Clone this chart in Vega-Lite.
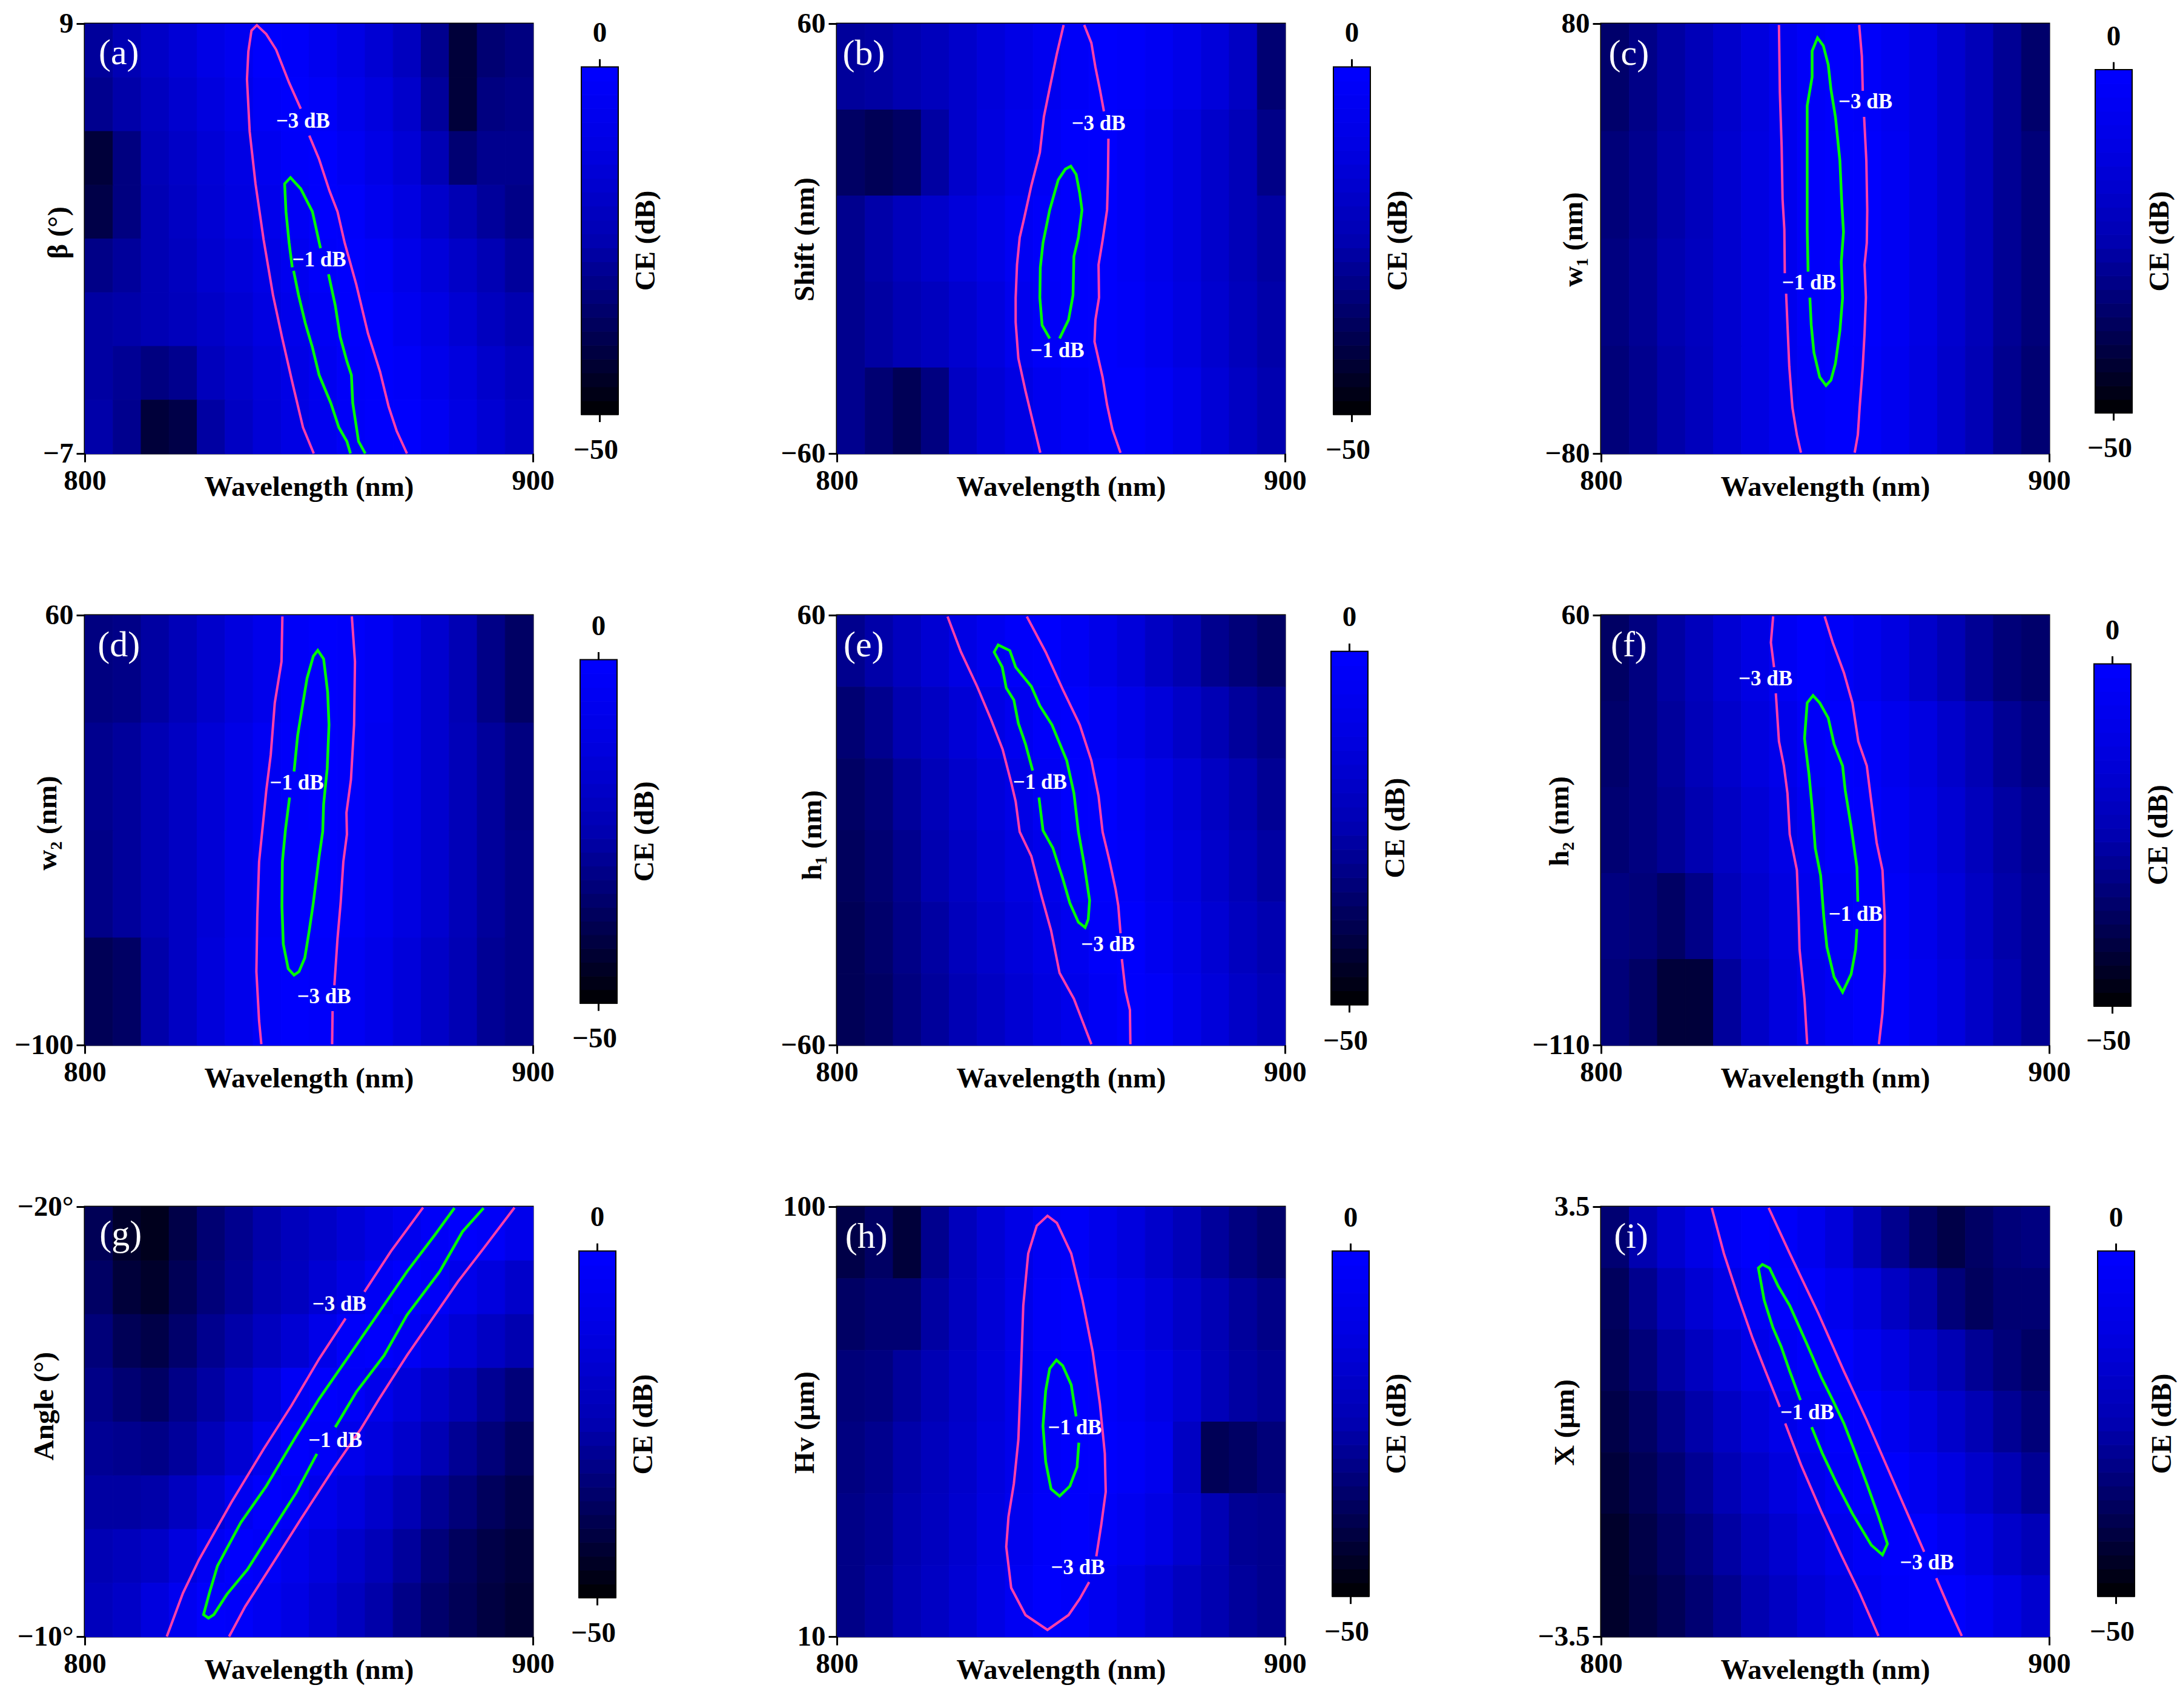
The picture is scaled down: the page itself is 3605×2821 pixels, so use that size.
{
"$schema":"https://vega.github.io/schema/vega-lite/v6.json",
"background":"white",
"padding":{"left":22,"top":13,"right":0,"bottom":0},
"columns":6,"spacing":{"row":267,"column":0},"bounds":"flush","align":"each",
"config":{"axis":{"labelFont":"Liberation Serif","titleFont":"Liberation Serif","labelFontWeight":"bold","titleFontWeight":"bold","labelFontSize":47,"titleFontSize":47,"labelColor":"black","titleColor":"black","tickColor":"black","tickSize":14,"tickWidth":3,"domain":false,"grid":false,"labelOverlap":false,"labelFlush":false},"axisX":{"labelPadding":8,"titleX":370,"titleY":55,"titleAlign":"center","titleBaseline":"middle","titleAngle":0},"axisY":{"labelPadding":5,"labelBaseline":"middle","titleAlign":"center","titleBaseline":"middle","titleAngle":270},"rect":{"opacity":1,"strokeWidth":1}},
"datasets":{"bar":[{"a":0,"b":1,"v":-49},{"a":0,"b":1,"v":-47},{"a":0,"b":1,"v":-45},{"a":0,"b":1,"v":-43},{"a":0,"b":1,"v":-41},{"a":0,"b":1,"v":-39},{"a":0,"b":1,"v":-37},{"a":0,"b":1,"v":-35},{"a":0,"b":1,"v":-33},{"a":0,"b":1,"v":-31},{"a":0,"b":1,"v":-29},{"a":0,"b":1,"v":-27},{"a":0,"b":1,"v":-25},{"a":0,"b":1,"v":-23},{"a":0,"b":1,"v":-21},{"a":0,"b":1,"v":-19},{"a":0,"b":1,"v":-17},{"a":0,"b":1,"v":-15},{"a":0,"b":1,"v":-13},{"a":0,"b":1,"v":-11},{"a":0,"b":1,"v":-9},{"a":0,"b":1,"v":-7},{"a":0,"b":1,"v":-5},{"a":0,"b":1,"v":-3},{"a":0,"b":1,"v":-1}],
"frame":[{"a":0,"b":1,"lo":-50,"hi":0}],
"ticks":[{"a":0.5,"lo":0,"hi":1.1},{"a":0.5,"lo":-50,"hi":-51.1}],
"top":[{"a":0.5,"y":4.8,"t":"0"}],
"low":[{"a":1,"y":-55.2,"t":"−50"}],
"name":[{"a":1.75,"y":-25,"t":"CE (dB)"}]},
"concat":[
{"width":740,"height":710,"view":{"stroke":"black","strokeWidth":3},"encoding":{"x":{"field":"x","type":"quantitative","scale":{"domain":[800,900]},"axis":{"values":[800,900],"format":"d","title":"Wavelength (nm)"}},"y":{"field":"y","type":"quantitative","scale":{"domain":[-7,9]},"axis":{"values":[-7,9],"format":"d","title":"β (°)","titleX":-44,"titleY":345}}},"layer":[
{"data":{"values":[
{"x":803,"y":8,"v":-28},{"x":809,"y":8,"v":-24},{"x":816,"y":8,"v":-19},{"x":822,"y":8,"v":-15},{"x":828,"y":8,"v":-10},{"x":834,"y":8,"v":-6},{"x":841,"y":8,"v":-1},{"x":847,"y":8,"v":-2},{"x":853,"y":8,"v":-6},{"x":859,"y":8,"v":-11},{"x":866,"y":8,"v":-16},{"x":872,"y":8,"v":-21},{"x":878,"y":8,"v":-30},{"x":884,"y":8,"v":-42},{"x":891,"y":8,"v":-34},{"x":897,"y":8,"v":-32},
{"x":803,"y":6,"v":-30},{"x":809,"y":6,"v":-26},{"x":816,"y":6,"v":-21},{"x":822,"y":6,"v":-17},{"x":828,"y":6,"v":-13},{"x":834,"y":6,"v":-8},{"x":841,"y":6,"v":-3},{"x":847,"y":6,"v":-1},{"x":853,"y":6,"v":-3},{"x":859,"y":6,"v":-8},{"x":866,"y":6,"v":-13},{"x":872,"y":6,"v":-18},{"x":878,"y":6,"v":-28},{"x":884,"y":6,"v":-42},{"x":891,"y":6,"v":-32},{"x":897,"y":6,"v":-31},
{"x":803,"y":4,"v":-42},{"x":809,"y":4,"v":-32},{"x":816,"y":4,"v":-23},{"x":822,"y":4,"v":-19},{"x":828,"y":4,"v":-15},{"x":834,"y":4,"v":-11},{"x":841,"y":4,"v":-6},{"x":847,"y":4,"v":-2},{"x":853,"y":4,"v":-1},{"x":859,"y":4,"v":-5},{"x":866,"y":4,"v":-10},{"x":872,"y":4,"v":-15},{"x":878,"y":4,"v":-24},{"x":884,"y":4,"v":-34},{"x":891,"y":4,"v":-30},{"x":897,"y":4,"v":-30},
{"x":803,"y":2,"v":-40},{"x":809,"y":2,"v":-32},{"x":816,"y":2,"v":-24},{"x":822,"y":2,"v":-20},{"x":828,"y":2,"v":-16},{"x":834,"y":2,"v":-12},{"x":841,"y":2,"v":-8},{"x":847,"y":2,"v":-4},{"x":853,"y":2,"v":-1},{"x":859,"y":2,"v":-2},{"x":866,"y":2,"v":-7},{"x":872,"y":2,"v":-12},{"x":878,"y":2,"v":-18},{"x":884,"y":2,"v":-24},{"x":891,"y":2,"v":-28},{"x":897,"y":2,"v":-31},
{"x":803,"y":0,"v":-31},{"x":809,"y":0,"v":-28},{"x":816,"y":0,"v":-24},{"x":822,"y":0,"v":-21},{"x":828,"y":0,"v":-17},{"x":834,"y":0,"v":-14},{"x":841,"y":0,"v":-10},{"x":847,"y":0,"v":-6},{"x":853,"y":0,"v":-2},{"x":859,"y":0,"v":-1},{"x":866,"y":0,"v":-3},{"x":872,"y":0,"v":-9},{"x":878,"y":0,"v":-14},{"x":884,"y":0,"v":-19},{"x":891,"y":0,"v":-24},{"x":897,"y":0,"v":-28},
{"x":803,"y":-2,"v":-27},{"x":809,"y":-2,"v":-26},{"x":816,"y":-2,"v":-24},{"x":822,"y":-2,"v":-22},{"x":828,"y":-2,"v":-19},{"x":834,"y":-2,"v":-16},{"x":841,"y":-2,"v":-12},{"x":847,"y":-2,"v":-8},{"x":853,"y":-2,"v":-4},{"x":859,"y":-2,"v":-1},{"x":866,"y":-2,"v":-1},{"x":872,"y":-2,"v":-6},{"x":878,"y":-2,"v":-11},{"x":884,"y":-2,"v":-16},{"x":891,"y":-2,"v":-21},{"x":897,"y":-2,"v":-25},
{"x":803,"y":-4,"v":-27},{"x":809,"y":-4,"v":-29},{"x":816,"y":-4,"v":-32},{"x":822,"y":-4,"v":-30},{"x":828,"y":-4,"v":-22},{"x":834,"y":-4,"v":-18},{"x":841,"y":-4,"v":-14},{"x":847,"y":-4,"v":-10},{"x":853,"y":-4,"v":-6},{"x":859,"y":-4,"v":-2},{"x":866,"y":-4,"v":-1},{"x":872,"y":-4,"v":-3},{"x":878,"y":-4,"v":-8},{"x":884,"y":-4,"v":-13},{"x":891,"y":-4,"v":-18},{"x":897,"y":-4,"v":-22},
{"x":803,"y":-6,"v":-26},{"x":809,"y":-6,"v":-30},{"x":816,"y":-6,"v":-42},{"x":822,"y":-6,"v":-40},{"x":828,"y":-6,"v":-27},{"x":834,"y":-6,"v":-20},{"x":841,"y":-6,"v":-15},{"x":847,"y":-6,"v":-11},{"x":853,"y":-6,"v":-7},{"x":859,"y":-6,"v":-3},{"x":866,"y":-6,"v":-1},{"x":872,"y":-6,"v":-1},{"x":878,"y":-6,"v":-5},{"x":884,"y":-6,"v":-11},{"x":891,"y":-6,"v":-16},{"x":897,"y":-6,"v":-20}
]},"mark":"rect","encoding":{"x":{"field":"x","type":"quantitative","bin":{"extent":[800,900],"step":6.25,"nice":false},"scale":{"domain":[800,900]}},"y":{"field":"y","type":"quantitative","bin":{"extent":[-7,9],"step":2,"nice":false},"scale":{"domain":[-7,9]}},"fill":{"field":"v","type":"quantitative","scale":{"domain":[-50,-35,-20,-10,0],"range":["#000000","#00005a","#0000b0","#0000e0","#0000ff"],"interpolate":"rgb"},"legend":null},"stroke":{"field":"v","type":"quantitative","scale":{"domain":[-50,-35,-20,-10,0],"range":["#000000","#00005a","#0000b0","#0000e0","#0000ff"],"interpolate":"rgb"},"legend":null}}},
{"data":{"values":[{"s":1,"x":848.2,"y":5.83},{"s":1,"x":845.6,"y":6.8},{"s":1,"x":842.7,"y":8.03},{"s":1,"x":840.5,"y":8.61},{"s":1,"x":838.4,"y":8.94},{"s":1,"x":837.2,"y":8.74},{"s":1,"x":836.5,"y":7.96},{"s":1,"x":836.2,"y":6.93},{"s":1,"x":836.8,"y":4.98},{"s":1,"x":838.1,"y":3.04},{"s":1,"x":839.9,"y":0.97},{"s":1,"x":842,"y":-1.1},{"s":1,"x":844,"y":-2.66},{"s":1,"x":846.3,"y":-4.34},{"s":1,"x":848.7,"y":-6.03},{"s":1,"x":851.1,"y":-7},{"s":2,"x":850.1,"y":4.83},{"s":2,"x":852.3,"y":3.95},{"s":2,"x":854.6,"y":2.78},{"s":2,"x":856.4,"y":2},{"s":2,"x":858,"y":0.84},{"s":2,"x":860.6,"y":-0.72},{"s":2,"x":863.2,"y":-2.53},{"s":2,"x":865.9,"y":-3.96},{"s":2,"x":867.8,"y":-5.25},{"s":2,"x":869.6,"y":-6.16},{"s":2,"x":871.9,"y":-7}]},"mark":{"type":"line","color":"#ff40a8","strokeWidth":4},"encoding":{"detail":{"field":"s"},"order":{"value":null}}},
{"data":{"values":[{"s":1,"x":852.6,"y":0.64},{"s":1,"x":850.8,"y":2},{"s":1,"x":848.2,"y":2.85},{"s":1,"x":845.9,"y":3.27},{"s":1,"x":844.6,"y":3.04},{"s":1,"x":844.9,"y":2},{"s":1,"x":845.6,"y":0.84},{"s":1,"x":846.3,"y":-0.07},{"s":2,"x":846.6,"y":-0.2},{"s":2,"x":847.7,"y":-1.1},{"s":2,"x":849.2,"y":-2.14},{"s":2,"x":850.8,"y":-3.05},{"s":2,"x":852.3,"y":-4.08},{"s":2,"x":854.9,"y":-5.12},{"s":2,"x":856.7,"y":-6.03},{"s":2,"x":858.5,"y":-6.55},{"s":2,"x":859.3,"y":-7},{"s":3,"x":854.4,"y":-0.33},{"s":3,"x":855.9,"y":-1.49},{"s":3,"x":857,"y":-2.66},{"s":3,"x":858.5,"y":-3.57},{"s":3,"x":859.5,"y":-4.08},{"s":3,"x":859.8,"y":-5.12},{"s":3,"x":861.1,"y":-6.55},{"s":3,"x":862.6,"y":-7}]},"mark":{"type":"line","color":"#00ff00","strokeWidth":4.5},"encoding":{"detail":{"field":"s"},"order":{"value":null}}},
{"data":{"values":[{"x":848.7,"y":5.37,"t":"−3 dB"},{"x":852.3,"y":0.22,"t":"−1 dB"}]},"mark":{"type":"text","font":"Liberation Serif","fontWeight":"bold","fontSize":35,"color":"white"},"encoding":{"text":{"field":"t"}}},
{"data":{"values":[{"x":807.6,"y":7.9,"t":"(a)"}]},"mark":{"type":"text","font":"Liberation Serif","fontSize":60,"color":"white"},"encoding":{"text":{"field":"t"}}}
]},
{"width":502,"height":710,"view":{"stroke":null},"encoding":{"x":{"field":"a","type":"quantitative","axis":null,"scale":{"domain":[-1.311,6.918]}},"y":{"field":"y","type":"quantitative","axis":null,"scale":{"domain":[-55.62,6.22]}}},"layer":[
{"data":{"name":"bar"},"mark":"rect","encoding":{"x2":{"field":"b"},"y":{"field":"v","type":"quantitative","bin":{"extent":[-50,0],"step":2,"nice":false},"axis":null,"scale":{"domain":[-55.62,6.22]}},"fill":{"field":"v","type":"quantitative","scale":{"domain":[-50,0],"range":["#000000","#0000ff"],"interpolate":"rgb"},"legend":null},"stroke":{"field":"v","type":"quantitative","scale":{"domain":[-50,0],"range":["#000000","#0000ff"],"interpolate":"rgb"},"legend":null}}},
{"data":{"name":"frame"},"mark":{"type":"rect","fillOpacity":0,"stroke":"black","strokeWidth":2},"encoding":{"x2":{"field":"b"},"y":{"field":"lo","type":"quantitative","axis":null,"scale":{"domain":[-55.62,6.22]}},"y2":{"field":"hi"}}},
{"data":{"name":"ticks"},"mark":{"type":"rule","color":"black","strokeWidth":3},"encoding":{"y":{"field":"lo","type":"quantitative","axis":null,"scale":{"domain":[-55.62,6.22]}},"y2":{"field":"hi"}}},
{"data":{"name":"top"},"mark":{"type":"text","font":"Liberation Serif","fontWeight":"bold","fontSize":47,"color":"black"},"encoding":{"text":{"field":"t"}}},
{"data":{"name":"low"},"mark":{"type":"text","align":"right","font":"Liberation Serif","fontWeight":"bold","fontSize":47,"color":"black"},"encoding":{"text":{"field":"t"}}},
{"data":{"name":"name"},"mark":{"type":"text","angle":270,"font":"Liberation Serif","fontWeight":"bold","fontSize":47,"color":"black"},"encoding":{"text":{"field":"t"}}}
]},
{"width":740,"height":710,"view":{"stroke":"black","strokeWidth":3},"encoding":{"x":{"field":"x","type":"quantitative","scale":{"domain":[800,900]},"axis":{"values":[800,900],"format":"d","title":"Wavelength (nm)"}},"y":{"field":"y","type":"quantitative","scale":{"domain":[-60,60]},"axis":{"values":[-60,60],"format":"d","title":"Shift (nm)","titleX":-53,"titleY":356}}},"layer":[
{"data":{"values":[
{"x":803,"y":48,"v":-28},{"x":809,"y":48,"v":-27},{"x":816,"y":48,"v":-25},{"x":822,"y":48,"v":-22},{"x":828,"y":48,"v":-18},{"x":834,"y":48,"v":-14},{"x":841,"y":48,"v":-10},{"x":847,"y":48,"v":-6},{"x":853,"y":48,"v":-3},{"x":859,"y":48,"v":-1},{"x":866,"y":48,"v":-2},{"x":872,"y":48,"v":-5},{"x":878,"y":48,"v":-9},{"x":884,"y":48,"v":-14},{"x":891,"y":48,"v":-20},{"x":897,"y":48,"v":-34},
{"x":803,"y":24,"v":-36},{"x":809,"y":24,"v":-38},{"x":816,"y":24,"v":-36},{"x":822,"y":24,"v":-27},{"x":828,"y":24,"v":-18},{"x":834,"y":24,"v":-13},{"x":841,"y":24,"v":-8},{"x":847,"y":24,"v":-4},{"x":853,"y":24,"v":-1},{"x":859,"y":24,"v":-1},{"x":866,"y":24,"v":-4},{"x":872,"y":24,"v":-8},{"x":878,"y":24,"v":-13},{"x":884,"y":24,"v":-18},{"x":891,"y":24,"v":-23},{"x":897,"y":24,"v":-31},
{"x":803,"y":0,"v":-30},{"x":809,"y":0,"v":-26},{"x":816,"y":0,"v":-22},{"x":822,"y":0,"v":-18},{"x":828,"y":0,"v":-14},{"x":834,"y":0,"v":-10},{"x":841,"y":0,"v":-5},{"x":847,"y":0,"v":-2},{"x":853,"y":0,"v":-1},{"x":859,"y":0,"v":-1},{"x":866,"y":0,"v":-4},{"x":872,"y":0,"v":-8},{"x":878,"y":0,"v":-13},{"x":884,"y":0,"v":-18},{"x":891,"y":0,"v":-23},{"x":897,"y":0,"v":-27},
{"x":803,"y":-24,"v":-30},{"x":809,"y":-24,"v":-27},{"x":816,"y":-24,"v":-24},{"x":822,"y":-24,"v":-21},{"x":828,"y":-24,"v":-17},{"x":834,"y":-24,"v":-13},{"x":841,"y":-24,"v":-7},{"x":847,"y":-24,"v":-3},{"x":853,"y":-24,"v":-1},{"x":859,"y":-24,"v":-1},{"x":866,"y":-24,"v":-3},{"x":872,"y":-24,"v":-7},{"x":878,"y":-24,"v":-12},{"x":884,"y":-24,"v":-17},{"x":891,"y":-24,"v":-22},{"x":897,"y":-24,"v":-26},
{"x":803,"y":-48,"v":-30},{"x":809,"y":-48,"v":-34},{"x":816,"y":-48,"v":-38},{"x":822,"y":-48,"v":-32},{"x":828,"y":-48,"v":-20},{"x":834,"y":-48,"v":-15},{"x":841,"y":-48,"v":-11},{"x":847,"y":-48,"v":-6},{"x":853,"y":-48,"v":-3},{"x":859,"y":-48,"v":-1},{"x":866,"y":-48,"v":-1},{"x":872,"y":-48,"v":-4},{"x":878,"y":-48,"v":-9},{"x":884,"y":-48,"v":-15},{"x":891,"y":-48,"v":-20},{"x":897,"y":-48,"v":-25}
]},"mark":"rect","encoding":{"x":{"field":"x","type":"quantitative","bin":{"extent":[800,900],"step":6.25,"nice":false},"scale":{"domain":[800,900]}},"y":{"field":"y","type":"quantitative","bin":{"extent":[-60,60],"step":24,"nice":false},"scale":{"domain":[-60,60]}},"fill":{"field":"v","type":"quantitative","scale":{"domain":[-50,-35,-20,-10,0],"range":["#000000","#00005a","#0000b0","#0000e0","#0000ff"],"interpolate":"rgb"},"legend":null},"stroke":{"field":"v","type":"quantitative","scale":{"domain":[-50,-35,-20,-10,0],"range":["#000000","#00005a","#0000b0","#0000e0","#0000ff"],"interpolate":"rgb"},"legend":null}}},
{"data":{"values":[{"s":1,"x":850.6,"y":59.6},{"s":1,"x":849.1,"y":51.6},{"s":1,"x":847.5,"y":42},{"s":1,"x":846.2,"y":34},{"s":1,"x":845.3,"y":24},{"s":1,"x":843.4,"y":14.8},{"s":1,"x":841.8,"y":5.7},{"s":1,"x":840.8,"y":0.3},{"s":1,"x":840.2,"y":-7.3},{"s":1,"x":839.9,"y":-16.5},{"s":1,"x":839.9,"y":-23.4},{"s":1,"x":840.5,"y":-33.4},{"s":1,"x":842.1,"y":-42.6},{"s":1,"x":844,"y":-52.5},{"s":1,"x":845.4,"y":-59.8},{"s":2,"x":855.2,"y":59.6},{"s":2,"x":856.8,"y":54.6},{"s":2,"x":857.7,"y":47.8},{"s":2,"x":858.7,"y":41.6},{"s":2,"x":859.6,"y":35.5},{"s":3,"x":860.6,"y":27.9},{"s":3,"x":860.5,"y":17.1},{"s":3,"x":860.3,"y":8},{"s":3,"x":859.3,"y":-0.5},{"s":3,"x":858.4,"y":-7.3},{"s":3,"x":858.5,"y":-16.5},{"s":3,"x":857.7,"y":-22.7},{"s":3,"x":857.5,"y":-28.8},{"s":3,"x":859.3,"y":-38.7},{"s":3,"x":860.3,"y":-46.4},{"s":3,"x":861.5,"y":-53.3},{"s":3,"x":863.3,"y":-59.8}]},"mark":{"type":"line","color":"#ff40a8","strokeWidth":4},"encoding":{"detail":{"field":"s"},"order":{"value":null}}},
{"data":{"values":[{"s":1,"x":847.5,"y":-27.9},{"s":1,"x":845.8,"y":-24.2},{"s":1,"x":845.3,"y":-16.5},{"s":1,"x":845.4,"y":-8.1},{"s":1,"x":846,"y":-1.2},{"s":1,"x":847.5,"y":8},{"s":1,"x":849.4,"y":16.4},{"s":1,"x":851,"y":19.4},{"s":1,"x":852.2,"y":20.2},{"s":1,"x":853.4,"y":17.9},{"s":1,"x":854.2,"y":12.6},{"s":1,"x":854.7,"y":8},{"s":1,"x":853.9,"y":0.3},{"s":1,"x":852.9,"y":-5},{"s":1,"x":852.7,"y":-15.8},{"s":1,"x":851.7,"y":-22.7},{"s":1,"x":849.7,"y":-27.9}]},"mark":{"type":"line","color":"#00ff00","strokeWidth":4.5},"encoding":{"detail":{"field":"s"},"order":{"value":null}}},
{"data":{"values":[{"x":858.4,"y":32.1,"t":"−3 dB"},{"x":849.2,"y":-31.2,"t":"−1 dB"}]},"mark":{"type":"text","font":"Liberation Serif","fontWeight":"bold","fontSize":35,"color":"white"},"encoding":{"text":{"field":"t"}}},
{"data":{"values":[{"x":806,"y":51.6,"t":"(b)"}]},"mark":{"type":"text","font":"Liberation Serif","fontSize":60,"color":"white"},"encoding":{"text":{"field":"t"}}}
]},
{"width":522,"height":710,"view":{"stroke":null},"encoding":{"x":{"field":"a","type":"quantitative","axis":null,"scale":{"domain":[-1.311,7.246]}},"y":{"field":"y","type":"quantitative","axis":null,"scale":{"domain":[-55.62,6.22]}}},"layer":[
{"data":{"name":"bar"},"mark":"rect","encoding":{"x2":{"field":"b"},"y":{"field":"v","type":"quantitative","bin":{"extent":[-50,0],"step":2,"nice":false},"axis":null,"scale":{"domain":[-55.62,6.22]}},"fill":{"field":"v","type":"quantitative","scale":{"domain":[-50,0],"range":["#000000","#0000ff"],"interpolate":"rgb"},"legend":null},"stroke":{"field":"v","type":"quantitative","scale":{"domain":[-50,0],"range":["#000000","#0000ff"],"interpolate":"rgb"},"legend":null}}},
{"data":{"name":"frame"},"mark":{"type":"rect","fillOpacity":0,"stroke":"black","strokeWidth":2},"encoding":{"x2":{"field":"b"},"y":{"field":"lo","type":"quantitative","axis":null,"scale":{"domain":[-55.62,6.22]}},"y2":{"field":"hi"}}},
{"data":{"name":"ticks"},"mark":{"type":"rule","color":"black","strokeWidth":3},"encoding":{"y":{"field":"lo","type":"quantitative","axis":null,"scale":{"domain":[-55.62,6.22]}},"y2":{"field":"hi"}}},
{"data":{"name":"top"},"mark":{"type":"text","font":"Liberation Serif","fontWeight":"bold","fontSize":47,"color":"black"},"encoding":{"text":{"field":"t"}}},
{"data":{"name":"low"},"mark":{"type":"text","align":"right","font":"Liberation Serif","fontWeight":"bold","fontSize":47,"color":"black"},"encoding":{"text":{"field":"t"}}},
{"data":{"name":"name"},"mark":{"type":"text","angle":270,"font":"Liberation Serif","fontWeight":"bold","fontSize":47,"color":"black"},"encoding":{"text":{"field":"t"}}}
]},
{"width":740,"height":710,"view":{"stroke":"black","strokeWidth":3},"encoding":{"x":{"field":"x","type":"quantitative","scale":{"domain":[800,900]},"axis":{"values":[800,900],"format":"d","title":"Wavelength (nm)"}},"y":{"field":"y","type":"quantitative","scale":{"domain":[-80,80]},"axis":{"values":[-80,80],"format":"d","title":"w₁ (nm)","titleX":-46,"titleY":356}}},"layer":[
{"data":{"values":[
{"x":803,"y":60,"v":-35},{"x":809,"y":60,"v":-31},{"x":816,"y":60,"v":-27},{"x":822,"y":60,"v":-23},{"x":828,"y":60,"v":-18},{"x":834,"y":60,"v":-13},{"x":841,"y":60,"v":-7},{"x":847,"y":60,"v":-3},{"x":853,"y":60,"v":-1},{"x":859,"y":60,"v":-2},{"x":866,"y":60,"v":-6},{"x":872,"y":60,"v":-11},{"x":878,"y":60,"v":-17},{"x":884,"y":60,"v":-23},{"x":891,"y":60,"v":-29},{"x":897,"y":60,"v":-35},
{"x":803,"y":20,"v":-33},{"x":809,"y":20,"v":-30},{"x":816,"y":20,"v":-26},{"x":822,"y":20,"v":-22},{"x":828,"y":20,"v":-17},{"x":834,"y":20,"v":-12},{"x":841,"y":20,"v":-7},{"x":847,"y":20,"v":-2},{"x":853,"y":20,"v":-1},{"x":859,"y":20,"v":-1},{"x":866,"y":20,"v":-5},{"x":872,"y":20,"v":-11},{"x":878,"y":20,"v":-17},{"x":884,"y":20,"v":-23},{"x":891,"y":20,"v":-29},{"x":897,"y":20,"v":-33},
{"x":803,"y":-20,"v":-32},{"x":809,"y":-20,"v":-29},{"x":816,"y":-20,"v":-25},{"x":822,"y":-20,"v":-21},{"x":828,"y":-20,"v":-17},{"x":834,"y":-20,"v":-12},{"x":841,"y":-20,"v":-7},{"x":847,"y":-20,"v":-2},{"x":853,"y":-20,"v":-1},{"x":859,"y":-20,"v":-1},{"x":866,"y":-20,"v":-5},{"x":872,"y":-20,"v":-11},{"x":878,"y":-20,"v":-17},{"x":884,"y":-20,"v":-23},{"x":891,"y":-20,"v":-29},{"x":897,"y":-20,"v":-33},
{"x":803,"y":-60,"v":-33},{"x":809,"y":-60,"v":-30},{"x":816,"y":-60,"v":-26},{"x":822,"y":-60,"v":-22},{"x":828,"y":-60,"v":-17},{"x":834,"y":-60,"v":-12},{"x":841,"y":-60,"v":-7},{"x":847,"y":-60,"v":-3},{"x":853,"y":-60,"v":-1},{"x":859,"y":-60,"v":-2},{"x":866,"y":-60,"v":-6},{"x":872,"y":-60,"v":-12},{"x":878,"y":-60,"v":-18},{"x":884,"y":-60,"v":-24},{"x":891,"y":-60,"v":-30},{"x":897,"y":-60,"v":-34}
]},"mark":"rect","encoding":{"x":{"field":"x","type":"quantitative","bin":{"extent":[800,900],"step":6.25,"nice":false},"scale":{"domain":[800,900]}},"y":{"field":"y","type":"quantitative","bin":{"extent":[-80,80],"step":40,"nice":false},"scale":{"domain":[-80,80]}},"fill":{"field":"v","type":"quantitative","scale":{"domain":[-50,-35,-20,-10,0],"range":["#000000","#00005a","#0000b0","#0000e0","#0000ff"],"interpolate":"rgb"},"legend":null},"stroke":{"field":"v","type":"quantitative","scale":{"domain":[-50,-35,-20,-10,0],"range":["#000000","#00005a","#0000b0","#0000e0","#0000ff"],"interpolate":"rgb"},"legend":null}}},
{"data":{"values":[{"s":1,"x":839.7,"y":79.5},{"s":1,"x":839.9,"y":54.5},{"s":1,"x":840.3,"y":34.1},{"s":1,"x":840.5,"y":14.7},{"s":1,"x":840.9,"y":3.5},{"s":1,"x":841,"y":-12.9},{"s":2,"x":841.3,"y":-20.5},{"s":2,"x":841.6,"y":-32.2},{"s":2,"x":842,"y":-47.6},{"s":2,"x":842.7,"y":-62.9},{"s":2,"x":843.7,"y":-73.1},{"s":2,"x":844.6,"y":-79.7},{"s":3,"x":857.6,"y":79.5},{"s":3,"x":858.2,"y":67.8},{"s":3,"x":858.4,"y":55},{"s":4,"x":858.7,"y":45.3},{"s":4,"x":859.2,"y":29},{"s":4,"x":859.4,"y":10.6},{"s":4,"x":859.3,"y":-1.6},{"s":4,"x":858.8,"y":-9.8},{"s":4,"x":859.1,"y":-22},{"s":4,"x":858.8,"y":-35.3},{"s":4,"x":858.4,"y":-47.6},{"s":4,"x":857.7,"y":-62.9},{"s":4,"x":857.3,"y":-73.1},{"s":4,"x":856.6,"y":-79.7}]},"mark":{"type":"line","color":"#ff40a8","strokeWidth":4},"encoding":{"detail":{"field":"s"},"order":{"value":null}}},
{"data":{"values":[{"s":1,"x":846.2,"y":-12.3},{"s":1,"x":846,"y":3.5},{"s":1,"x":846,"y":23.9},{"s":1,"x":846,"y":49.4},{"s":1,"x":847.1,"y":60.1},{"s":1,"x":847.1,"y":69.8},{"s":1,"x":848.3,"y":74.7},{"s":1,"x":849.6,"y":71.8},{"s":1,"x":850.7,"y":64.7},{"s":1,"x":851.3,"y":55.5},{"s":1,"x":852.3,"y":45.3},{"s":1,"x":853.3,"y":29},{"s":1,"x":853.7,"y":13.7},{"s":1,"x":854.1,"y":2.4},{"s":1,"x":853.6,"y":-8.8},{"s":1,"x":853.9,"y":-22},{"s":1,"x":853.3,"y":-34.3},{"s":1,"x":852.3,"y":-46.5},{"s":1,"x":851.3,"y":-52.7},{"s":1,"x":850.2,"y":-54.7},{"s":1,"x":848.8,"y":-51.6},{"s":1,"x":847.5,"y":-42.4},{"s":1,"x":846.9,"y":-32.2},{"s":1,"x":846.6,"y":-22}]},"mark":{"type":"line","color":"#00ff00","strokeWidth":4.5},"encoding":{"detail":{"field":"s"},"order":{"value":null}}},
{"data":{"values":[{"x":859,"y":50.9,"t":"−3 dB"},{"x":846.4,"y":-16.4,"t":"−1 dB"}]},"mark":{"type":"text","font":"Liberation Serif","fontWeight":"bold","fontSize":35,"color":"white"},"encoding":{"text":{"field":"t"}}},
{"data":{"values":[{"x":806.2,"y":68.8,"t":"(c)"}]},"mark":{"type":"text","font":"Liberation Serif","fontSize":60,"color":"white"},"encoding":{"text":{"field":"t"}}}
]},
{"width":221,"height":710,"view":{"stroke":null},"encoding":{"x":{"field":"a","type":"quantitative","axis":null,"scale":{"domain":[-1.246,2.377]}},"y":{"field":"y","type":"quantitative","axis":null,"scale":{"domain":[-55.9,6.71]}}},"layer":[
{"data":{"name":"bar"},"mark":"rect","encoding":{"x2":{"field":"b"},"y":{"field":"v","type":"quantitative","bin":{"extent":[-50,0],"step":2,"nice":false},"axis":null,"scale":{"domain":[-55.9,6.71]}},"fill":{"field":"v","type":"quantitative","scale":{"domain":[-50,0],"range":["#000000","#0000ff"],"interpolate":"rgb"},"legend":null},"stroke":{"field":"v","type":"quantitative","scale":{"domain":[-50,0],"range":["#000000","#0000ff"],"interpolate":"rgb"},"legend":null}}},
{"data":{"name":"frame"},"mark":{"type":"rect","fillOpacity":0,"stroke":"black","strokeWidth":2},"encoding":{"x2":{"field":"b"},"y":{"field":"lo","type":"quantitative","axis":null,"scale":{"domain":[-55.9,6.71]}},"y2":{"field":"hi"}}},
{"data":{"name":"ticks"},"mark":{"type":"rule","color":"black","strokeWidth":3},"encoding":{"y":{"field":"lo","type":"quantitative","axis":null,"scale":{"domain":[-55.9,6.71]}},"y2":{"field":"hi"}}},
{"data":{"name":"top"},"mark":{"type":"text","font":"Liberation Serif","fontWeight":"bold","fontSize":47,"color":"black"},"encoding":{"text":{"field":"t"}}},
{"data":{"name":"low"},"mark":{"type":"text","align":"right","font":"Liberation Serif","fontWeight":"bold","fontSize":47,"color":"black"},"encoding":{"text":{"field":"t"}}},
{"data":{"name":"name"},"mark":{"type":"text","angle":270,"font":"Liberation Serif","fontWeight":"bold","fontSize":47,"color":"black"},"encoding":{"text":{"field":"t"}}}
]},
{"width":740,"height":710,"view":{"stroke":"black","strokeWidth":3},"encoding":{"x":{"field":"x","type":"quantitative","scale":{"domain":[800,900]},"axis":{"values":[800,900],"format":"d","title":"Wavelength (nm)"}},"y":{"field":"y","type":"quantitative","scale":{"domain":[-100,60]},"axis":{"values":[-100,60],"format":"d","title":"w₂ (nm)","titleX":-62,"titleY":343}}},"layer":[
{"data":{"values":[
{"x":803,"y":40,"v":-32},{"x":809,"y":40,"v":-31},{"x":816,"y":40,"v":-27},{"x":822,"y":40,"v":-23},{"x":828,"y":40,"v":-18},{"x":834,"y":40,"v":-13},{"x":841,"y":40,"v":-8},{"x":847,"y":40,"v":-3},{"x":853,"y":40,"v":-1},{"x":859,"y":40,"v":-2},{"x":866,"y":40,"v":-5},{"x":872,"y":40,"v":-11},{"x":878,"y":40,"v":-17},{"x":884,"y":40,"v":-24},{"x":891,"y":40,"v":-31},{"x":897,"y":40,"v":-36},
{"x":803,"y":0,"v":-30},{"x":809,"y":0,"v":-28},{"x":816,"y":0,"v":-24},{"x":822,"y":0,"v":-20},{"x":828,"y":0,"v":-15},{"x":834,"y":0,"v":-10},{"x":841,"y":0,"v":-5},{"x":847,"y":0,"v":-2},{"x":853,"y":0,"v":-1},{"x":859,"y":0,"v":-2},{"x":866,"y":0,"v":-6},{"x":872,"y":0,"v":-11},{"x":878,"y":0,"v":-17},{"x":884,"y":0,"v":-23},{"x":891,"y":0,"v":-28},{"x":897,"y":0,"v":-32},
{"x":803,"y":-40,"v":-31},{"x":809,"y":-40,"v":-28},{"x":816,"y":-40,"v":-24},{"x":822,"y":-40,"v":-20},{"x":828,"y":-40,"v":-15},{"x":834,"y":-40,"v":-9},{"x":841,"y":-40,"v":-4},{"x":847,"y":-40,"v":-1},{"x":853,"y":-40,"v":-1},{"x":859,"y":-40,"v":-3},{"x":866,"y":-40,"v":-7},{"x":872,"y":-40,"v":-12},{"x":878,"y":-40,"v":-17},{"x":884,"y":-40,"v":-23},{"x":891,"y":-40,"v":-28},{"x":897,"y":-40,"v":-31},
{"x":803,"y":-80,"v":-38},{"x":809,"y":-80,"v":-36},{"x":816,"y":-80,"v":-26},{"x":822,"y":-80,"v":-20},{"x":828,"y":-80,"v":-14},{"x":834,"y":-80,"v":-8},{"x":841,"y":-80,"v":-3},{"x":847,"y":-80,"v":-1},{"x":853,"y":-80,"v":-2},{"x":859,"y":-80,"v":-5},{"x":866,"y":-80,"v":-9},{"x":872,"y":-80,"v":-14},{"x":878,"y":-80,"v":-19},{"x":884,"y":-80,"v":-24},{"x":891,"y":-80,"v":-29},{"x":897,"y":-80,"v":-31}
]},"mark":"rect","encoding":{"x":{"field":"x","type":"quantitative","bin":{"extent":[800,900],"step":6.25,"nice":false},"scale":{"domain":[800,900]}},"y":{"field":"y","type":"quantitative","bin":{"extent":[-100,60],"step":40,"nice":false},"scale":{"domain":[-100,60]}},"fill":{"field":"v","type":"quantitative","scale":{"domain":[-50,-35,-20,-10,0],"range":["#000000","#00005a","#0000b0","#0000e0","#0000ff"],"interpolate":"rgb"},"legend":null},"stroke":{"field":"v","type":"quantitative","scale":{"domain":[-50,-35,-20,-10,0],"range":["#000000","#00005a","#0000b0","#0000e0","#0000ff"],"interpolate":"rgb"},"legend":null}}},
{"data":{"values":[{"s":1,"x":844.1,"y":59.5},{"s":1,"x":843.9,"y":42.7},{"s":1,"x":842.4,"y":27.3},{"s":1,"x":841.5,"y":8},{"s":1,"x":840.5,"y":-5.3},{"s":1,"x":839.9,"y":-15.5},{"s":1,"x":838.9,"y":-31.8},{"s":1,"x":838.5,"y":-52.2},{"s":1,"x":838.3,"y":-72.7},{"s":1,"x":838.9,"y":-91},{"s":1,"x":839.4,"y":-99.7},{"s":2,"x":859.6,"y":59.5},{"s":2,"x":860.3,"y":42.7},{"s":2,"x":860.1,"y":19.2},{"s":2,"x":859.4,"y":-1.2},{"s":2,"x":858.4,"y":-13.5},{"s":2,"x":858.5,"y":-21.6},{"s":2,"x":857.7,"y":-31.8},{"s":2,"x":857.1,"y":-47.1},{"s":2,"x":856.4,"y":-60.4},{"s":2,"x":855.7,"y":-77.8},{"s":3,"x":855.3,"y":-87.4},{"s":3,"x":855.2,"y":-99.7}]},"mark":{"type":"line","color":"#ff40a8","strokeWidth":4},"encoding":{"detail":{"field":"s"},"order":{"value":null}}},
{"data":{"values":[{"s":1,"x":846.7,"y":1.8},{"s":1,"x":847.5,"y":15.1},{"s":1,"x":848.5,"y":25.3},{"s":1,"x":849.6,"y":36.5},{"s":1,"x":851,"y":44.7},{"s":1,"x":852,"y":46.9},{"s":1,"x":853.3,"y":43.7},{"s":1,"x":854.2,"y":31.4},{"s":1,"x":854.5,"y":19.2},{"s":1,"x":854.1,"y":2.9},{"s":1,"x":853.3,"y":-10.4},{"s":1,"x":853.1,"y":-20.6},{"s":1,"x":852.3,"y":-29.8},{"s":1,"x":851,"y":-47.1},{"s":1,"x":850.1,"y":-57.3},{"s":1,"x":849.1,"y":-67.6},{"s":1,"x":847.8,"y":-72.7},{"s":1,"x":846.7,"y":-74},{"s":1,"x":845.4,"y":-71.6},{"s":1,"x":844.3,"y":-62.4},{"s":1,"x":844,"y":-48.2},{"s":1,"x":844.1,"y":-31.8},{"s":1,"x":844.8,"y":-19.6},{"s":1,"x":845.7,"y":-7.9}]},"mark":{"type":"line","color":"#00ff00","strokeWidth":4.5},"encoding":{"detail":{"field":"s"},"order":{"value":null}}},
{"data":{"values":[{"x":847.3,"y":-2.4,"t":"−1 dB"},{"x":853.4,"y":-82,"t":"−3 dB"}]},"mark":{"type":"text","font":"Liberation Serif","fontWeight":"bold","fontSize":35,"color":"white"},"encoding":{"text":{"field":"t"}}},
{"data":{"values":[{"x":807.6,"y":48.8,"t":"(d)"}]},"mark":{"type":"text","font":"Liberation Serif","fontSize":60,"color":"white"},"encoding":{"text":{"field":"t"}}}
]},
{"width":502,"height":710,"view":{"stroke":null},"encoding":{"x":{"field":"a","type":"quantitative","axis":null,"scale":{"domain":[-1.279,6.951]}},"y":{"field":"y","type":"quantitative","axis":null,"scale":{"domain":[-56.07,6.48]}}},"layer":[
{"data":{"name":"bar"},"mark":"rect","encoding":{"x2":{"field":"b"},"y":{"field":"v","type":"quantitative","bin":{"extent":[-50,0],"step":2,"nice":false},"axis":null,"scale":{"domain":[-56.07,6.48]}},"fill":{"field":"v","type":"quantitative","scale":{"domain":[-50,0],"range":["#000000","#0000ff"],"interpolate":"rgb"},"legend":null},"stroke":{"field":"v","type":"quantitative","scale":{"domain":[-50,0],"range":["#000000","#0000ff"],"interpolate":"rgb"},"legend":null}}},
{"data":{"name":"frame"},"mark":{"type":"rect","fillOpacity":0,"stroke":"black","strokeWidth":2},"encoding":{"x2":{"field":"b"},"y":{"field":"lo","type":"quantitative","axis":null,"scale":{"domain":[-56.07,6.48]}},"y2":{"field":"hi"}}},
{"data":{"name":"ticks"},"mark":{"type":"rule","color":"black","strokeWidth":3},"encoding":{"y":{"field":"lo","type":"quantitative","axis":null,"scale":{"domain":[-56.07,6.48]}},"y2":{"field":"hi"}}},
{"data":{"name":"top"},"mark":{"type":"text","font":"Liberation Serif","fontWeight":"bold","fontSize":47,"color":"black"},"encoding":{"text":{"field":"t"}}},
{"data":{"name":"low"},"mark":{"type":"text","align":"right","font":"Liberation Serif","fontWeight":"bold","fontSize":47,"color":"black"},"encoding":{"text":{"field":"t"}}},
{"data":{"name":"name"},"mark":{"type":"text","angle":270,"font":"Liberation Serif","fontWeight":"bold","fontSize":47,"color":"black"},"encoding":{"text":{"field":"t"}}}
]},
{"width":740,"height":710,"view":{"stroke":"black","strokeWidth":3},"encoding":{"x":{"field":"x","type":"quantitative","scale":{"domain":[800,900]},"axis":{"values":[800,900],"format":"d","title":"Wavelength (nm)"}},"y":{"field":"y","type":"quantitative","scale":{"domain":[-60,60]},"axis":{"values":[-60,60],"format":"d","title":"h₁ (nm)","titleX":-41,"titleY":363}}},"layer":[
{"data":{"values":[
{"x":803,"y":50,"v":-30},{"x":809,"y":50,"v":-26},{"x":816,"y":50,"v":-21},{"x":822,"y":50,"v":-16},{"x":828,"y":50,"v":-11},{"x":834,"y":50,"v":-6},{"x":841,"y":50,"v":-2},{"x":847,"y":50,"v":-1},{"x":853,"y":50,"v":-4},{"x":859,"y":50,"v":-9},{"x":866,"y":50,"v":-14},{"x":872,"y":50,"v":-20},{"x":878,"y":50,"v":-25},{"x":884,"y":50,"v":-30},{"x":891,"y":50,"v":-33},{"x":897,"y":50,"v":-36},
{"x":803,"y":30,"v":-34},{"x":809,"y":30,"v":-30},{"x":816,"y":30,"v":-25},{"x":822,"y":30,"v":-20},{"x":828,"y":30,"v":-15},{"x":834,"y":30,"v":-11},{"x":841,"y":30,"v":-6},{"x":847,"y":30,"v":-2},{"x":853,"y":30,"v":-1},{"x":859,"y":30,"v":-4},{"x":866,"y":30,"v":-9},{"x":872,"y":30,"v":-14},{"x":878,"y":30,"v":-19},{"x":884,"y":30,"v":-24},{"x":891,"y":30,"v":-28},{"x":897,"y":30,"v":-31},
{"x":803,"y":10,"v":-36},{"x":809,"y":10,"v":-33},{"x":816,"y":10,"v":-28},{"x":822,"y":10,"v":-23},{"x":828,"y":10,"v":-18},{"x":834,"y":10,"v":-14},{"x":841,"y":10,"v":-10},{"x":847,"y":10,"v":-5},{"x":853,"y":10,"v":-1},{"x":859,"y":10,"v":-1},{"x":866,"y":10,"v":-5},{"x":872,"y":10,"v":-10},{"x":878,"y":10,"v":-15},{"x":884,"y":10,"v":-20},{"x":891,"y":10,"v":-25},{"x":897,"y":10,"v":-29},
{"x":803,"y":-10,"v":-37},{"x":809,"y":-10,"v":-34},{"x":816,"y":-10,"v":-30},{"x":822,"y":-10,"v":-25},{"x":828,"y":-10,"v":-20},{"x":834,"y":-10,"v":-16},{"x":841,"y":-10,"v":-12},{"x":847,"y":-10,"v":-8},{"x":853,"y":-10,"v":-3},{"x":859,"y":-10,"v":-1},{"x":866,"y":-10,"v":-3},{"x":872,"y":-10,"v":-8},{"x":878,"y":-10,"v":-13},{"x":884,"y":-10,"v":-18},{"x":891,"y":-10,"v":-23},{"x":897,"y":-10,"v":-27},
{"x":803,"y":-30,"v":-38},{"x":809,"y":-30,"v":-35},{"x":816,"y":-30,"v":-31},{"x":822,"y":-30,"v":-27},{"x":828,"y":-30,"v":-22},{"x":834,"y":-30,"v":-18},{"x":841,"y":-30,"v":-14},{"x":847,"y":-30,"v":-10},{"x":853,"y":-30,"v":-6},{"x":859,"y":-30,"v":-2},{"x":866,"y":-30,"v":-1},{"x":872,"y":-30,"v":-6},{"x":878,"y":-30,"v":-11},{"x":884,"y":-30,"v":-16},{"x":891,"y":-30,"v":-21},{"x":897,"y":-30,"v":-25},
{"x":803,"y":-50,"v":-38},{"x":809,"y":-50,"v":-36},{"x":816,"y":-50,"v":-32},{"x":822,"y":-50,"v":-28},{"x":828,"y":-50,"v":-24},{"x":834,"y":-50,"v":-20},{"x":841,"y":-50,"v":-16},{"x":847,"y":-50,"v":-12},{"x":853,"y":-50,"v":-8},{"x":859,"y":-50,"v":-4},{"x":866,"y":-50,"v":-1},{"x":872,"y":-50,"v":-3},{"x":878,"y":-50,"v":-9},{"x":884,"y":-50,"v":-14},{"x":891,"y":-50,"v":-19},{"x":897,"y":-50,"v":-23}
]},"mark":"rect","encoding":{"x":{"field":"x","type":"quantitative","bin":{"extent":[800,900],"step":6.25,"nice":false},"scale":{"domain":[800,900]}},"y":{"field":"y","type":"quantitative","bin":{"extent":[-60,60],"step":20,"nice":false},"scale":{"domain":[-60,60]}},"fill":{"field":"v","type":"quantitative","scale":{"domain":[-50,-35,-20,-10,0],"range":["#000000","#00005a","#0000b0","#0000e0","#0000ff"],"interpolate":"rgb"},"legend":null},"stroke":{"field":"v","type":"quantitative","scale":{"domain":[-50,-35,-20,-10,0],"range":["#000000","#00005a","#0000b0","#0000e0","#0000ff"],"interpolate":"rgb"},"legend":null}}},
{"data":{"values":[{"s":1,"x":824.7,"y":59.6},{"s":1,"x":827.7,"y":49.7},{"s":1,"x":831.3,"y":40.1},{"s":1,"x":834.4,"y":30.9},{"s":1,"x":837,"y":22.5},{"s":1,"x":838.9,"y":13.3},{"s":1,"x":839.9,"y":8},{"s":1,"x":840.8,"y":-0.5},{"s":1,"x":843.4,"y":-7.3},{"s":1,"x":845.6,"y":-18.1},{"s":1,"x":847.8,"y":-28},{"s":1,"x":849.7,"y":-39.9},{"s":1,"x":852.9,"y":-47.1},{"s":1,"x":856.8,"y":-59.8},{"s":2,"x":842.4,"y":59.6},{"s":2,"x":846.6,"y":49.7},{"s":2,"x":850.4,"y":39.3},{"s":2,"x":854.2,"y":29.4},{"s":2,"x":856.8,"y":19.4},{"s":2,"x":858.4,"y":9.5},{"s":2,"x":859.3,"y":-0.5},{"s":2,"x":860.9,"y":-8.9},{"s":2,"x":862.2,"y":-16.5},{"s":2,"x":862.8,"y":-21.1},{"s":2,"x":863.3,"y":-28.8},{"s":3,"x":863.6,"y":-36},{"s":3,"x":864.4,"y":-44.8},{"s":3,"x":865.4,"y":-50.2},{"s":3,"x":865.5,"y":-59.8}]},"mark":{"type":"line","color":"#ff40a8","strokeWidth":4},"encoding":{"detail":{"field":"s"},"order":{"value":null}}},
{"data":{"values":[{"s":1,"x":843.7,"y":16.6},{"s":1,"x":842.1,"y":24},{"s":1,"x":840.5,"y":29.8},{"s":1,"x":839.5,"y":36.3},{"s":1,"x":837.8,"y":39.7},{"s":1,"x":836.9,"y":45.5},{"s":1,"x":835.1,"y":49.7},{"s":1,"x":836,"y":51.7},{"s":1,"x":838.6,"y":50.1},{"s":1,"x":839.9,"y":45.5},{"s":1,"x":843.4,"y":40.1},{"s":1,"x":845.3,"y":34.7},{"s":1,"x":848,"y":29.4},{"s":1,"x":851.3,"y":19.4},{"s":1,"x":852.9,"y":10.3},{"s":1,"x":853.9,"y":-0.5},{"s":1,"x":855.2,"y":-9.6},{"s":1,"x":856.4,"y":-19.6},{"s":1,"x":856.1,"y":-24.9},{"s":1,"x":855.4,"y":-27.2},{"s":1,"x":853.9,"y":-25.7},{"s":1,"x":852,"y":-20.4},{"s":1,"x":850.4,"y":-13.5},{"s":1,"x":848.2,"y":-5},{"s":1,"x":846,"y":-0.1},{"s":1,"x":845.1,"y":9.1}]},"mark":{"type":"line","color":"#00ff00","strokeWidth":4.5},"encoding":{"detail":{"field":"s"},"order":{"value":null}}},
{"data":{"values":[{"x":845.3,"y":13.3,"t":"−1 dB"},{"x":860.5,"y":-32,"t":"−3 dB"}]},"mark":{"type":"text","font":"Liberation Serif","fontWeight":"bold","fontSize":35,"color":"white"},"encoding":{"text":{"field":"t"}}},
{"data":{"values":[{"x":806,"y":51.6,"t":"(e)"}]},"mark":{"type":"text","font":"Liberation Serif","fontSize":60,"color":"white"},"encoding":{"text":{"field":"t"}}}
]},
{"width":522,"height":710,"view":{"stroke":null},"encoding":{"x":{"field":"a","type":"quantitative","axis":null,"scale":{"domain":[-1.246,7.311]}},"y":{"field":"y","type":"quantitative","axis":null,"scale":{"domain":[-55.7,5.12]}}},"layer":[
{"data":{"name":"bar"},"mark":"rect","encoding":{"x2":{"field":"b"},"y":{"field":"v","type":"quantitative","bin":{"extent":[-50,0],"step":2,"nice":false},"axis":null,"scale":{"domain":[-55.7,5.12]}},"fill":{"field":"v","type":"quantitative","scale":{"domain":[-50,0],"range":["#000000","#0000ff"],"interpolate":"rgb"},"legend":null},"stroke":{"field":"v","type":"quantitative","scale":{"domain":[-50,0],"range":["#000000","#0000ff"],"interpolate":"rgb"},"legend":null}}},
{"data":{"name":"frame"},"mark":{"type":"rect","fillOpacity":0,"stroke":"black","strokeWidth":2},"encoding":{"x2":{"field":"b"},"y":{"field":"lo","type":"quantitative","axis":null,"scale":{"domain":[-55.7,5.12]}},"y2":{"field":"hi"}}},
{"data":{"name":"ticks"},"mark":{"type":"rule","color":"black","strokeWidth":3},"encoding":{"y":{"field":"lo","type":"quantitative","axis":null,"scale":{"domain":[-55.7,5.12]}},"y2":{"field":"hi"}}},
{"data":{"name":"top"},"mark":{"type":"text","font":"Liberation Serif","fontWeight":"bold","fontSize":47,"color":"black"},"encoding":{"text":{"field":"t"}}},
{"data":{"name":"low"},"mark":{"type":"text","align":"right","font":"Liberation Serif","fontWeight":"bold","fontSize":47,"color":"black"},"encoding":{"text":{"field":"t"}}},
{"data":{"name":"name"},"mark":{"type":"text","angle":270,"font":"Liberation Serif","fontWeight":"bold","fontSize":47,"color":"black"},"encoding":{"text":{"field":"t"}}}
]},
{"width":740,"height":710,"view":{"stroke":"black","strokeWidth":3},"encoding":{"x":{"field":"x","type":"quantitative","scale":{"domain":[800,900]},"axis":{"values":[800,900],"format":"d","title":"Wavelength (nm)"}},"y":{"field":"y","type":"quantitative","scale":{"domain":[-110,60]},"axis":{"values":[-110,60],"format":"d","title":"h₂ (nm)","titleX":-69,"titleY":340}}},"layer":[
{"data":{"values":[
{"x":803,"y":43,"v":-36},{"x":809,"y":43,"v":-32},{"x":816,"y":43,"v":-27},{"x":822,"y":43,"v":-22},{"x":828,"y":43,"v":-16},{"x":834,"y":43,"v":-11},{"x":841,"y":43,"v":-5},{"x":847,"y":43,"v":-1},{"x":853,"y":43,"v":-3},{"x":859,"y":43,"v":-7},{"x":866,"y":43,"v":-12},{"x":872,"y":43,"v":-18},{"x":878,"y":43,"v":-24},{"x":884,"y":43,"v":-29},{"x":891,"y":43,"v":-33},{"x":897,"y":43,"v":-35},
{"x":803,"y":9,"v":-35},{"x":809,"y":9,"v":-32},{"x":816,"y":9,"v":-28},{"x":822,"y":9,"v":-23},{"x":828,"y":9,"v":-18},{"x":834,"y":9,"v":-13},{"x":841,"y":9,"v":-8},{"x":847,"y":9,"v":-3},{"x":853,"y":9,"v":-1},{"x":859,"y":9,"v":-2},{"x":866,"y":9,"v":-7},{"x":872,"y":9,"v":-12},{"x":878,"y":9,"v":-18},{"x":884,"y":9,"v":-24},{"x":891,"y":9,"v":-29},{"x":897,"y":9,"v":-32},
{"x":803,"y":-25,"v":-34},{"x":809,"y":-25,"v":-32},{"x":816,"y":-25,"v":-29},{"x":822,"y":-25,"v":-25},{"x":828,"y":-25,"v":-20},{"x":834,"y":-25,"v":-15},{"x":841,"y":-25,"v":-10},{"x":847,"y":-25,"v":-5},{"x":853,"y":-25,"v":-1},{"x":859,"y":-25,"v":-1},{"x":866,"y":-25,"v":-5},{"x":872,"y":-25,"v":-10},{"x":878,"y":-25,"v":-16},{"x":884,"y":-25,"v":-22},{"x":891,"y":-25,"v":-27},{"x":897,"y":-25,"v":-30},
{"x":803,"y":-59,"v":-32},{"x":809,"y":-59,"v":-33},{"x":816,"y":-59,"v":-36},{"x":822,"y":-59,"v":-31},{"x":828,"y":-59,"v":-23},{"x":834,"y":-59,"v":-17},{"x":841,"y":-59,"v":-12},{"x":847,"y":-59,"v":-7},{"x":853,"y":-59,"v":-3},{"x":859,"y":-59,"v":-1},{"x":866,"y":-59,"v":-3},{"x":872,"y":-59,"v":-8},{"x":878,"y":-59,"v":-14},{"x":884,"y":-59,"v":-20},{"x":891,"y":-59,"v":-26},{"x":897,"y":-59,"v":-29},
{"x":803,"y":-93,"v":-33},{"x":809,"y":-93,"v":-36},{"x":816,"y":-93,"v":-42},{"x":822,"y":-93,"v":-42},{"x":828,"y":-93,"v":-28},{"x":834,"y":-93,"v":-19},{"x":841,"y":-93,"v":-13},{"x":847,"y":-93,"v":-8},{"x":853,"y":-93,"v":-4},{"x":859,"y":-93,"v":-1},{"x":866,"y":-93,"v":-2},{"x":872,"y":-93,"v":-7},{"x":878,"y":-93,"v":-13},{"x":884,"y":-93,"v":-19},{"x":891,"y":-93,"v":-25},{"x":897,"y":-93,"v":-29}
]},"mark":"rect","encoding":{"x":{"field":"x","type":"quantitative","bin":{"extent":[800,900],"step":6.25,"nice":false},"scale":{"domain":[800,900]}},"y":{"field":"y","type":"quantitative","bin":{"extent":[-110,60],"step":34,"nice":false},"scale":{"domain":[-110,60]}},"fill":{"field":"v","type":"quantitative","scale":{"domain":[-50,-35,-20,-10,0],"range":["#000000","#00005a","#0000b0","#0000e0","#0000ff"],"interpolate":"rgb"},"legend":null},"stroke":{"field":"v","type":"quantitative","scale":{"domain":[-50,-35,-20,-10,0],"range":["#000000","#00005a","#0000b0","#0000e0","#0000ff"],"interpolate":"rgb"},"legend":null}}},
{"data":{"values":[{"s":1,"x":838.4,"y":59.5},{"s":1,"x":837.9,"y":49.2},{"s":1,"x":838.6,"y":39.4},{"s":2,"x":839,"y":29.1},{"s":2,"x":839.7,"y":10.1},{"s":2,"x":840.8,"y":0.4},{"s":2,"x":841.6,"y":-10.5},{"s":2,"x":842.1,"y":-26.7},{"s":2,"x":843.7,"y":-40.8},{"s":2,"x":844.1,"y":-59.3},{"s":2,"x":844.3,"y":-72.3},{"s":2,"x":845.4,"y":-91.8},{"s":2,"x":846,"y":-109.7},{"s":3,"x":849.9,"y":59.5},{"s":3,"x":851.7,"y":49.2},{"s":3,"x":854.2,"y":37.2},{"s":3,"x":856.1,"y":25.3},{"s":3,"x":857.4,"y":10.1},{"s":3,"x":859.3,"y":0.4},{"s":3,"x":860.3,"y":-13.7},{"s":3,"x":861.5,"y":-30},{"s":3,"x":862.8,"y":-40.8},{"s":3,"x":863.3,"y":-59.3},{"s":3,"x":863.3,"y":-80.9},{"s":3,"x":862.8,"y":-97.2},{"s":3,"x":862,"y":-109.7}]},"mark":{"type":"line","color":"#ff40a8","strokeWidth":4},"encoding":{"detail":{"field":"s"},"order":{"value":null}}},
{"data":{"values":[{"s":1,"x":857.3,"y":-53.3},{"s":1,"x":857.1,"y":-39.7},{"s":1,"x":855.8,"y":-23.5},{"s":1,"x":854.5,"y":-9.4},{"s":1,"x":853.9,"y":0.4},{"s":1,"x":852,"y":9},{"s":1,"x":850.7,"y":19.3},{"s":1,"x":848.8,"y":25.3},{"s":1,"x":847.3,"y":28.2},{"s":1,"x":846,"y":25.3},{"s":1,"x":845.4,"y":11.2},{"s":1,"x":846.4,"y":-2.9},{"s":1,"x":847.2,"y":-18.1},{"s":1,"x":847.8,"y":-32.2},{"s":1,"x":849,"y":-43},{"s":1,"x":849.7,"y":-59.3},{"s":1,"x":850.4,"y":-71.2},{"s":1,"x":852,"y":-83.1},{"s":1,"x":853.9,"y":-89.1},{"s":1,"x":855.8,"y":-82},{"s":1,"x":856.8,"y":-72.3},{"s":1,"x":857.1,"y":-64.1}]},"mark":{"type":"line","color":"#00ff00","strokeWidth":4.5},"encoding":{"detail":{"field":"s"},"order":{"value":null}}},
{"data":{"values":[{"x":836.7,"y":34.8,"t":"−3 dB"},{"x":856.8,"y":-58.2,"t":"−1 dB"}]},"mark":{"type":"text","font":"Liberation Serif","fontWeight":"bold","fontSize":35,"color":"white"},"encoding":{"text":{"field":"t"}}},
{"data":{"values":[{"x":806.2,"y":48.1,"t":"(f)"}]},"mark":{"type":"text","font":"Liberation Serif","fontSize":60,"color":"white"},"encoding":{"text":{"field":"t"}}}
]},
{"width":221,"height":710,"view":{"stroke":null},"encoding":{"x":{"field":"a","type":"quantitative","axis":null,"scale":{"domain":[-1.213,2.41]}},"y":{"field":"y","type":"quantitative","axis":null,"scale":{"domain":[-55.69,7.11]}}},"layer":[
{"data":{"name":"bar"},"mark":"rect","encoding":{"x2":{"field":"b"},"y":{"field":"v","type":"quantitative","bin":{"extent":[-50,0],"step":2,"nice":false},"axis":null,"scale":{"domain":[-55.69,7.11]}},"fill":{"field":"v","type":"quantitative","scale":{"domain":[-50,0],"range":["#000000","#0000ff"],"interpolate":"rgb"},"legend":null},"stroke":{"field":"v","type":"quantitative","scale":{"domain":[-50,0],"range":["#000000","#0000ff"],"interpolate":"rgb"},"legend":null}}},
{"data":{"name":"frame"},"mark":{"type":"rect","fillOpacity":0,"stroke":"black","strokeWidth":2},"encoding":{"x2":{"field":"b"},"y":{"field":"lo","type":"quantitative","axis":null,"scale":{"domain":[-55.69,7.11]}},"y2":{"field":"hi"}}},
{"data":{"name":"ticks"},"mark":{"type":"rule","color":"black","strokeWidth":3},"encoding":{"y":{"field":"lo","type":"quantitative","axis":null,"scale":{"domain":[-55.69,7.11]}},"y2":{"field":"hi"}}},
{"data":{"name":"top"},"mark":{"type":"text","font":"Liberation Serif","fontWeight":"bold","fontSize":47,"color":"black"},"encoding":{"text":{"field":"t"}}},
{"data":{"name":"low"},"mark":{"type":"text","align":"right","font":"Liberation Serif","fontWeight":"bold","fontSize":47,"color":"black"},"encoding":{"text":{"field":"t"}}},
{"data":{"name":"name"},"mark":{"type":"text","angle":270,"font":"Liberation Serif","fontWeight":"bold","fontSize":47,"color":"black"},"encoding":{"text":{"field":"t"}}}
]},
{"width":740,"height":710,"view":{"stroke":"black","strokeWidth":3},"encoding":{"x":{"field":"x","type":"quantitative","scale":{"domain":[800,900]},"axis":{"values":[800,900],"format":"d","title":"Wavelength (nm)"}},"y":{"field":"y","type":"quantitative","scale":{"domain":[-10,-20]},"axis":{"values":[-20,-10],"format":"d","labelExpr":"datum.label + '°'","title":"Angle (°)","titleX":-67,"titleY":329}}},"layer":[
{"data":{"values":[
{"x":803,"y":-19.4,"v":-38},{"x":809,"y":-19.4,"v":-44},{"x":816,"y":-19.4,"v":-46},{"x":822,"y":-19.4,"v":-40},{"x":828,"y":-19.4,"v":-34},{"x":834,"y":-19.4,"v":-30},{"x":841,"y":-19.4,"v":-26},{"x":847,"y":-19.4,"v":-22},{"x":853,"y":-19.4,"v":-19},{"x":859,"y":-19.4,"v":-15},{"x":866,"y":-19.4,"v":-11},{"x":872,"y":-19.4,"v":-7},{"x":878,"y":-19.4,"v":-3},{"x":884,"y":-19.4,"v":-1},{"x":891,"y":-19.4,"v":-3},{"x":897,"y":-19.4,"v":-8},
{"x":803,"y":-18.1,"v":-36},{"x":809,"y":-18.1,"v":-42},{"x":816,"y":-18.1,"v":-44},{"x":822,"y":-18.1,"v":-38},{"x":828,"y":-18.1,"v":-33},{"x":834,"y":-18.1,"v":-29},{"x":841,"y":-18.1,"v":-25},{"x":847,"y":-18.1,"v":-21},{"x":853,"y":-18.1,"v":-16},{"x":859,"y":-18.1,"v":-11},{"x":866,"y":-18.1,"v":-4},{"x":872,"y":-18.1,"v":-1},{"x":878,"y":-18.1,"v":-3},{"x":884,"y":-18.1,"v":-8},{"x":891,"y":-18.1,"v":-13},{"x":897,"y":-18.1,"v":-18},
{"x":803,"y":-16.9,"v":-33},{"x":809,"y":-16.9,"v":-38},{"x":816,"y":-16.9,"v":-40},{"x":822,"y":-16.9,"v":-35},{"x":828,"y":-16.9,"v":-30},{"x":834,"y":-16.9,"v":-26},{"x":841,"y":-16.9,"v":-21},{"x":847,"y":-16.9,"v":-16},{"x":853,"y":-16.9,"v":-9},{"x":859,"y":-16.9,"v":-2},{"x":866,"y":-16.9,"v":-1},{"x":872,"y":-16.9,"v":-4},{"x":878,"y":-16.9,"v":-9},{"x":884,"y":-16.9,"v":-15},{"x":891,"y":-16.9,"v":-20},{"x":897,"y":-16.9,"v":-25},
{"x":803,"y":-15.6,"v":-31},{"x":809,"y":-15.6,"v":-34},{"x":816,"y":-15.6,"v":-36},{"x":822,"y":-15.6,"v":-31},{"x":828,"y":-15.6,"v":-27},{"x":834,"y":-15.6,"v":-21},{"x":841,"y":-15.6,"v":-14},{"x":847,"y":-15.6,"v":-4},{"x":853,"y":-15.6,"v":-1},{"x":859,"y":-15.6,"v":-3},{"x":866,"y":-15.6,"v":-8},{"x":872,"y":-15.6,"v":-14},{"x":878,"y":-15.6,"v":-19},{"x":884,"y":-15.6,"v":-24},{"x":891,"y":-15.6,"v":-29},{"x":897,"y":-15.6,"v":-33},
{"x":803,"y":-14.4,"v":-29},{"x":809,"y":-14.4,"v":-30},{"x":816,"y":-14.4,"v":-31},{"x":822,"y":-14.4,"v":-28},{"x":828,"y":-14.4,"v":-23},{"x":834,"y":-14.4,"v":-16},{"x":841,"y":-14.4,"v":-7},{"x":847,"y":-14.4,"v":-1},{"x":853,"y":-14.4,"v":-3},{"x":859,"y":-14.4,"v":-8},{"x":866,"y":-14.4,"v":-13},{"x":872,"y":-14.4,"v":-18},{"x":878,"y":-14.4,"v":-24},{"x":884,"y":-14.4,"v":-29},{"x":891,"y":-14.4,"v":-33},{"x":897,"y":-14.4,"v":-37},
{"x":803,"y":-13.1,"v":-27},{"x":809,"y":-13.1,"v":-27},{"x":816,"y":-13.1,"v":-26},{"x":822,"y":-13.1,"v":-21},{"x":828,"y":-13.1,"v":-15},{"x":834,"y":-13.1,"v":-6},{"x":841,"y":-13.1,"v":-1},{"x":847,"y":-13.1,"v":-3},{"x":853,"y":-13.1,"v":-8},{"x":859,"y":-13.1,"v":-13},{"x":866,"y":-13.1,"v":-18},{"x":872,"y":-13.1,"v":-24},{"x":878,"y":-13.1,"v":-29},{"x":884,"y":-13.1,"v":-33},{"x":891,"y":-13.1,"v":-37},{"x":897,"y":-13.1,"v":-40},
{"x":803,"y":-11.9,"v":-24},{"x":809,"y":-11.9,"v":-22},{"x":816,"y":-11.9,"v":-19},{"x":822,"y":-11.9,"v":-13},{"x":828,"y":-11.9,"v":-5},{"x":834,"y":-11.9,"v":-1},{"x":841,"y":-11.9,"v":-3},{"x":847,"y":-11.9,"v":-8},{"x":853,"y":-11.9,"v":-13},{"x":859,"y":-11.9,"v":-18},{"x":866,"y":-11.9,"v":-23},{"x":872,"y":-11.9,"v":-28},{"x":878,"y":-11.9,"v":-33},{"x":884,"y":-11.9,"v":-37},{"x":891,"y":-11.9,"v":-40},{"x":897,"y":-11.9,"v":-42},
{"x":803,"y":-10.6,"v":-22},{"x":809,"y":-10.6,"v":-19},{"x":816,"y":-10.6,"v":-13},{"x":822,"y":-10.6,"v":-6},{"x":828,"y":-10.6,"v":-1},{"x":834,"y":-10.6,"v":-2},{"x":841,"y":-10.6,"v":-6},{"x":847,"y":-10.6,"v":-11},{"x":853,"y":-10.6,"v":-16},{"x":859,"y":-10.6,"v":-21},{"x":866,"y":-10.6,"v":-26},{"x":872,"y":-10.6,"v":-31},{"x":878,"y":-10.6,"v":-35},{"x":884,"y":-10.6,"v":-38},{"x":891,"y":-10.6,"v":-41},{"x":897,"y":-10.6,"v":-43}
]},"mark":"rect","encoding":{"x":{"field":"x","type":"quantitative","bin":{"extent":[800,900],"step":6.25,"nice":false},"scale":{"domain":[800,900]}},"y":{"field":"y","type":"quantitative","bin":{"extent":[-20,-10],"step":1.25,"nice":false},"scale":{"domain":[-10,-20]}},"fill":{"field":"v","type":"quantitative","scale":{"domain":[-50,-35,-20,-10,0],"range":["#000000","#00005a","#0000b0","#0000e0","#0000ff"],"interpolate":"rgb"},"legend":null},"stroke":{"field":"v","type":"quantitative","scale":{"domain":[-50,-35,-20,-10,0],"range":["#000000","#00005a","#0000b0","#0000e0","#0000ff"],"interpolate":"rgb"},"legend":null}}},
{"data":{"values":[{"s":1,"x":862.4,"y":-18.02},{"s":1,"x":868.3,"y":-18.96},{"s":1,"x":875.5,"y":-19.98},{"s":2,"x":858.2,"y":-17.4},{"s":2,"x":852.3,"y":-16.46},{"s":2,"x":846.1,"y":-15.37},{"s":2,"x":839.9,"y":-14.36},{"s":2,"x":832.7,"y":-13.12},{"s":2,"x":825.5,"y":-11.79},{"s":2,"x":821.9,"y":-11.01},{"s":2,"x":818.3,"y":-10},{"s":3,"x":895.9,"y":-19.98},{"s":3,"x":889,"y":-19.03},{"s":3,"x":883.3,"y":-18.26},{"s":3,"x":878.6,"y":-17.55},{"s":3,"x":871.9,"y":-16.54},{"s":3,"x":865.7,"y":-15.53},{"s":3,"x":861.6,"y":-14.83},{"s":3,"x":855.4,"y":-13.89},{"s":3,"x":848.2,"y":-12.73},{"s":3,"x":842,"y":-11.71},{"s":3,"x":835.8,"y":-10.7},{"s":3,"x":832.2,"y":-10}]},"mark":{"type":"line","color":"#ff40a8","strokeWidth":4},"encoding":{"detail":{"field":"s"},"order":{"value":null}}},
{"data":{"values":[{"s":1,"x":882.5,"y":-19.97},{"s":1,"x":878.1,"y":-19.34},{"s":1,"x":871.9,"y":-18.49},{"s":1,"x":865.7,"y":-17.55},{"s":1,"x":858.5,"y":-16.46},{"s":1,"x":852.3,"y":-15.53},{"s":1,"x":847.2,"y":-14.67},{"s":1,"x":840.5,"y":-13.5},{"s":1,"x":834.8,"y":-12.65},{"s":1,"x":829.6,"y":-11.64},{"s":1,"x":827.8,"y":-11.01},{"s":1,"x":826.5,"y":-10.51},{"s":1,"x":827.6,"y":-10.43},{"s":1,"x":828.8,"y":-10.51},{"s":1,"x":831.7,"y":-10.98},{"s":1,"x":836.3,"y":-11.56},{"s":1,"x":842,"y":-12.5},{"s":1,"x":847.2,"y":-13.35},{"s":1,"x":851.8,"y":-14.25},{"s":2,"x":855.9,"y":-14.87},{"s":2,"x":860.6,"y":-15.69},{"s":2,"x":866.8,"y":-16.54},{"s":2,"x":871.9,"y":-17.48},{"s":2,"x":879.2,"y":-18.49},{"s":2,"x":884.3,"y":-19.42},{"s":2,"x":889,"y":-19.97}]},"mark":{"type":"line","color":"#00ff00","strokeWidth":4.5},"encoding":{"detail":{"field":"s"},"order":{"value":null}}},
{"data":{"values":[{"x":856.8,"y":-17.73,"t":"−3 dB"},{"x":855.9,"y":-14.57,"t":"−1 dB"}]},"mark":{"type":"text","font":"Liberation Serif","fontWeight":"bold","fontSize":35,"color":"white"},"encoding":{"text":{"field":"t"}}},
{"data":{"values":[{"x":808,"y":-19.35,"t":"(g)"}]},"mark":{"type":"text","font":"Liberation Serif","fontSize":60,"color":"white"},"encoding":{"text":{"field":"t"}}}
]},
{"width":502,"height":710,"view":{"stroke":null},"encoding":{"x":{"field":"a","type":"quantitative","axis":null,"scale":{"domain":[-1.246,6.984]}},"y":{"field":"y","type":"quantitative","axis":null,"scale":{"domain":[-55.6,6.4]}}},"layer":[
{"data":{"name":"bar"},"mark":"rect","encoding":{"x2":{"field":"b"},"y":{"field":"v","type":"quantitative","bin":{"extent":[-50,0],"step":2,"nice":false},"axis":null,"scale":{"domain":[-55.6,6.4]}},"fill":{"field":"v","type":"quantitative","scale":{"domain":[-50,0],"range":["#000000","#0000ff"],"interpolate":"rgb"},"legend":null},"stroke":{"field":"v","type":"quantitative","scale":{"domain":[-50,0],"range":["#000000","#0000ff"],"interpolate":"rgb"},"legend":null}}},
{"data":{"name":"frame"},"mark":{"type":"rect","fillOpacity":0,"stroke":"black","strokeWidth":2},"encoding":{"x2":{"field":"b"},"y":{"field":"lo","type":"quantitative","axis":null,"scale":{"domain":[-55.6,6.4]}},"y2":{"field":"hi"}}},
{"data":{"name":"ticks"},"mark":{"type":"rule","color":"black","strokeWidth":3},"encoding":{"y":{"field":"lo","type":"quantitative","axis":null,"scale":{"domain":[-55.6,6.4]}},"y2":{"field":"hi"}}},
{"data":{"name":"top"},"mark":{"type":"text","font":"Liberation Serif","fontWeight":"bold","fontSize":47,"color":"black"},"encoding":{"text":{"field":"t"}}},
{"data":{"name":"low"},"mark":{"type":"text","align":"right","font":"Liberation Serif","fontWeight":"bold","fontSize":47,"color":"black"},"encoding":{"text":{"field":"t"}}},
{"data":{"name":"name"},"mark":{"type":"text","angle":270,"font":"Liberation Serif","fontWeight":"bold","fontSize":47,"color":"black"},"encoding":{"text":{"field":"t"}}}
]},
{"width":740,"height":710,"view":{"stroke":"black","strokeWidth":3},"encoding":{"x":{"field":"x","type":"quantitative","scale":{"domain":[800,900]},"axis":{"values":[800,900],"format":"d","title":"Wavelength (nm)"}},"y":{"field":"y","type":"quantitative","scale":{"domain":[10,100]},"axis":{"values":[10,100],"format":"d","title":"Hv (μm)","titleX":-53,"titleY":356}}},"layer":[
{"data":{"values":[
{"x":803,"y":92.5,"v":-40},{"x":809,"y":92.5,"v":-36},{"x":816,"y":92.5,"v":-42},{"x":822,"y":92.5,"v":-30},{"x":828,"y":92.5,"v":-22},{"x":834,"y":92.5,"v":-16},{"x":841,"y":92.5,"v":-10},{"x":847,"y":92.5,"v":-4},{"x":853,"y":92.5,"v":-3},{"x":859,"y":92.5,"v":-8},{"x":866,"y":92.5,"v":-13},{"x":872,"y":92.5,"v":-18},{"x":878,"y":92.5,"v":-23},{"x":884,"y":92.5,"v":-28},{"x":891,"y":92.5,"v":-32},{"x":897,"y":92.5,"v":-35},
{"x":803,"y":77.5,"v":-36},{"x":809,"y":77.5,"v":-34},{"x":816,"y":77.5,"v":-34},{"x":822,"y":77.5,"v":-27},{"x":828,"y":77.5,"v":-21},{"x":834,"y":77.5,"v":-15},{"x":841,"y":77.5,"v":-9},{"x":847,"y":77.5,"v":-3},{"x":853,"y":77.5,"v":-1},{"x":859,"y":77.5,"v":-4},{"x":866,"y":77.5,"v":-9},{"x":872,"y":77.5,"v":-14},{"x":878,"y":77.5,"v":-19},{"x":884,"y":77.5,"v":-24},{"x":891,"y":77.5,"v":-28},{"x":897,"y":77.5,"v":-31},
{"x":803,"y":62.5,"v":-33},{"x":809,"y":62.5,"v":-32},{"x":816,"y":62.5,"v":-28},{"x":822,"y":62.5,"v":-24},{"x":828,"y":62.5,"v":-19},{"x":834,"y":62.5,"v":-14},{"x":841,"y":62.5,"v":-8},{"x":847,"y":62.5,"v":-3},{"x":853,"y":62.5,"v":-1},{"x":859,"y":62.5,"v":-2},{"x":866,"y":62.5,"v":-5},{"x":872,"y":62.5,"v":-10},{"x":878,"y":62.5,"v":-16},{"x":884,"y":62.5,"v":-23},{"x":891,"y":62.5,"v":-27},{"x":897,"y":62.5,"v":-29},
{"x":803,"y":47.5,"v":-32},{"x":809,"y":47.5,"v":-30},{"x":816,"y":47.5,"v":-26},{"x":822,"y":47.5,"v":-22},{"x":828,"y":47.5,"v":-18},{"x":834,"y":47.5,"v":-13},{"x":841,"y":47.5,"v":-8},{"x":847,"y":47.5,"v":-3},{"x":853,"y":47.5,"v":-1},{"x":859,"y":47.5,"v":-1},{"x":866,"y":47.5,"v":-3},{"x":872,"y":47.5,"v":-7},{"x":878,"y":47.5,"v":-20},{"x":884,"y":47.5,"v":-38},{"x":891,"y":47.5,"v":-36},{"x":897,"y":47.5,"v":-33},
{"x":803,"y":32.5,"v":-31},{"x":809,"y":32.5,"v":-29},{"x":816,"y":32.5,"v":-25},{"x":822,"y":32.5,"v":-21},{"x":828,"y":32.5,"v":-17},{"x":834,"y":32.5,"v":-12},{"x":841,"y":32.5,"v":-7},{"x":847,"y":32.5,"v":-2},{"x":853,"y":32.5,"v":-1},{"x":859,"y":32.5,"v":-3},{"x":866,"y":32.5,"v":-6},{"x":872,"y":32.5,"v":-11},{"x":878,"y":32.5,"v":-17},{"x":884,"y":32.5,"v":-24},{"x":891,"y":32.5,"v":-29},{"x":897,"y":32.5,"v":-30},
{"x":803,"y":17.5,"v":-31},{"x":809,"y":17.5,"v":-28},{"x":816,"y":17.5,"v":-24},{"x":822,"y":17.5,"v":-20},{"x":828,"y":17.5,"v":-16},{"x":834,"y":17.5,"v":-11},{"x":841,"y":17.5,"v":-5},{"x":847,"y":17.5,"v":-1},{"x":853,"y":17.5,"v":-2},{"x":859,"y":17.5,"v":-6},{"x":866,"y":17.5,"v":-11},{"x":872,"y":17.5,"v":-16},{"x":878,"y":17.5,"v":-21},{"x":884,"y":17.5,"v":-25},{"x":891,"y":17.5,"v":-28},{"x":897,"y":17.5,"v":-30}
]},"mark":"rect","encoding":{"x":{"field":"x","type":"quantitative","bin":{"extent":[800,900],"step":6.25,"nice":false},"scale":{"domain":[800,900]}},"y":{"field":"y","type":"quantitative","bin":{"extent":[10,100],"step":15,"nice":false},"scale":{"domain":[10,100]}},"fill":{"field":"v","type":"quantitative","scale":{"domain":[-50,-35,-20,-10,0],"range":["#000000","#00005a","#0000b0","#0000e0","#0000ff"],"interpolate":"rgb"},"legend":null},"stroke":{"field":"v","type":"quantitative","scale":{"domain":[-50,-35,-20,-10,0],"range":["#000000","#00005a","#0000b0","#0000e0","#0000ff"],"interpolate":"rgb"},"legend":null}}},
{"data":{"values":[{"s":1,"x":857.9,"y":26.8},{"s":1,"x":859,"y":33.4},{"s":1,"x":860,"y":40.3},{"s":1,"x":859.8,"y":48.3},{"s":1,"x":858.7,"y":58.7},{"s":1,"x":857.1,"y":69.6},{"s":1,"x":854.8,"y":80.5},{"s":1,"x":852.3,"y":90.2},{"s":1,"x":849.1,"y":96.6},{"s":1,"x":847,"y":98.1},{"s":1,"x":844.6,"y":96},{"s":1,"x":842.7,"y":90.2},{"s":1,"x":841.6,"y":79.3},{"s":1,"x":841.1,"y":65.6},{"s":1,"x":840.5,"y":51.2},{"s":1,"x":839.5,"y":42},{"s":1,"x":838.3,"y":35.1},{"s":1,"x":837.8,"y":28.8},{"s":1,"x":838.9,"y":20.2},{"s":1,"x":842.1,"y":14.5},{"s":1,"x":847,"y":11.4},{"s":1,"x":851.7,"y":14.5},{"s":1,"x":854.2,"y":17.9},{"s":1,"x":856.3,"y":21.4}]},"mark":{"type":"line","color":"#ff40a8","strokeWidth":4},"encoding":{"detail":{"field":"s"},"order":{"value":null}}},
{"data":{"values":[{"s":1,"x":853.4,"y":56.1},{"s":1,"x":852.3,"y":62.7},{"s":1,"x":850.4,"y":66.7},{"s":1,"x":849,"y":67.9},{"s":1,"x":847.5,"y":66.1},{"s":1,"x":846.6,"y":61.5},{"s":1,"x":846,"y":54.1},{"s":1,"x":846.6,"y":46.6},{"s":1,"x":847.8,"y":40.9},{"s":1,"x":849.7,"y":39.4},{"s":1,"x":852,"y":41.5},{"s":1,"x":853.6,"y":45.5},{"s":1,"x":854,"y":50.6}]},"mark":{"type":"line","color":"#00ff00","strokeWidth":4.5},"encoding":{"detail":{"field":"s"},"order":{"value":null}}},
{"data":{"values":[{"x":853.1,"y":53.7,"t":"−1 dB"},{"x":853.8,"y":24.4,"t":"−3 dB"}]},"mark":{"type":"text","font":"Liberation Serif","fontWeight":"bold","fontSize":35,"color":"white"},"encoding":{"text":{"field":"t"}}},
{"data":{"values":[{"x":806.6,"y":93.7,"t":"(h)"}]},"mark":{"type":"text","font":"Liberation Serif","fontSize":60,"color":"white"},"encoding":{"text":{"field":"t"}}}
]},
{"width":522,"height":710,"view":{"stroke":null},"encoding":{"x":{"field":"a","type":"quantitative","axis":null,"scale":{"domain":[-1.279,7.279]}},"y":{"field":"y","type":"quantitative","axis":null,"scale":{"domain":[-55.82,6.43]}}},"layer":[
{"data":{"name":"bar"},"mark":"rect","encoding":{"x2":{"field":"b"},"y":{"field":"v","type":"quantitative","bin":{"extent":[-50,0],"step":2,"nice":false},"axis":null,"scale":{"domain":[-55.82,6.43]}},"fill":{"field":"v","type":"quantitative","scale":{"domain":[-50,0],"range":["#000000","#0000ff"],"interpolate":"rgb"},"legend":null},"stroke":{"field":"v","type":"quantitative","scale":{"domain":[-50,0],"range":["#000000","#0000ff"],"interpolate":"rgb"},"legend":null}}},
{"data":{"name":"frame"},"mark":{"type":"rect","fillOpacity":0,"stroke":"black","strokeWidth":2},"encoding":{"x2":{"field":"b"},"y":{"field":"lo","type":"quantitative","axis":null,"scale":{"domain":[-55.82,6.43]}},"y2":{"field":"hi"}}},
{"data":{"name":"ticks"},"mark":{"type":"rule","color":"black","strokeWidth":3},"encoding":{"y":{"field":"lo","type":"quantitative","axis":null,"scale":{"domain":[-55.82,6.43]}},"y2":{"field":"hi"}}},
{"data":{"name":"top"},"mark":{"type":"text","font":"Liberation Serif","fontWeight":"bold","fontSize":47,"color":"black"},"encoding":{"text":{"field":"t"}}},
{"data":{"name":"low"},"mark":{"type":"text","align":"right","font":"Liberation Serif","fontWeight":"bold","fontSize":47,"color":"black"},"encoding":{"text":{"field":"t"}}},
{"data":{"name":"name"},"mark":{"type":"text","angle":270,"font":"Liberation Serif","fontWeight":"bold","fontSize":47,"color":"black"},"encoding":{"text":{"field":"t"}}}
]},
{"width":740,"height":710,"view":{"stroke":"black","strokeWidth":3},"encoding":{"x":{"field":"x","type":"quantitative","scale":{"domain":[800,900]},"axis":{"values":[800,900],"format":"d","title":"Wavelength (nm)"}},"y":{"field":"y","type":"quantitative","scale":{"domain":[-3.5,3.5]},"axis":{"values":[-3.5,3.5],"format":".1f","title":"X (μm)","titleX":-60,"titleY":356}}},"layer":[
{"data":{"values":[
{"x":803,"y":3,"v":-34},{"x":809,"y":3,"v":-25},{"x":816,"y":3,"v":-17},{"x":822,"y":3,"v":-10},{"x":828,"y":3,"v":-4},{"x":834,"y":3,"v":-1},{"x":841,"y":3,"v":-2},{"x":847,"y":3,"v":-7},{"x":853,"y":3,"v":-14},{"x":859,"y":3,"v":-24},{"x":866,"y":3,"v":-30},{"x":872,"y":3,"v":-36},{"x":878,"y":3,"v":-40},{"x":884,"y":3,"v":-36},{"x":891,"y":3,"v":-33},{"x":897,"y":3,"v":-32},
{"x":803,"y":2,"v":-37},{"x":809,"y":2,"v":-30},{"x":816,"y":2,"v":-23},{"x":822,"y":2,"v":-16},{"x":828,"y":2,"v":-10},{"x":834,"y":2,"v":-4},{"x":841,"y":2,"v":-1},{"x":847,"y":2,"v":-2},{"x":853,"y":2,"v":-7},{"x":859,"y":2,"v":-13},{"x":866,"y":2,"v":-20},{"x":872,"y":2,"v":-26},{"x":878,"y":2,"v":-33},{"x":884,"y":2,"v":-37},{"x":891,"y":2,"v":-34},{"x":897,"y":2,"v":-34},
{"x":803,"y":1,"v":-38},{"x":809,"y":1,"v":-33},{"x":816,"y":1,"v":-27},{"x":822,"y":1,"v":-21},{"x":828,"y":1,"v":-15},{"x":834,"y":1,"v":-9},{"x":841,"y":1,"v":-4},{"x":847,"y":1,"v":-1},{"x":853,"y":1,"v":-1},{"x":859,"y":1,"v":-6},{"x":866,"y":1,"v":-12},{"x":872,"y":1,"v":-18},{"x":878,"y":1,"v":-24},{"x":884,"y":1,"v":-29},{"x":891,"y":1,"v":-33},{"x":897,"y":1,"v":-36},
{"x":803,"y":0,"v":-40},{"x":809,"y":0,"v":-36},{"x":816,"y":0,"v":-31},{"x":822,"y":0,"v":-26},{"x":828,"y":0,"v":-20},{"x":834,"y":0,"v":-14},{"x":841,"y":0,"v":-9},{"x":847,"y":0,"v":-4},{"x":853,"y":0,"v":-1},{"x":859,"y":0,"v":-1},{"x":866,"y":0,"v":-6},{"x":872,"y":0,"v":-12},{"x":878,"y":0,"v":-18},{"x":884,"y":0,"v":-24},{"x":891,"y":0,"v":-29},{"x":897,"y":0,"v":-33},
{"x":803,"y":-1,"v":-42},{"x":809,"y":-1,"v":-38},{"x":816,"y":-1,"v":-34},{"x":822,"y":-1,"v":-29},{"x":828,"y":-1,"v":-24},{"x":834,"y":-1,"v":-18},{"x":841,"y":-1,"v":-13},{"x":847,"y":-1,"v":-8},{"x":853,"y":-1,"v":-3},{"x":859,"y":-1,"v":-1},{"x":866,"y":-1,"v":-1},{"x":872,"y":-1,"v":-6},{"x":878,"y":-1,"v":-12},{"x":884,"y":-1,"v":-18},{"x":891,"y":-1,"v":-24},{"x":897,"y":-1,"v":-29},
{"x":803,"y":-2,"v":-44},{"x":809,"y":-2,"v":-40},{"x":816,"y":-2,"v":-36},{"x":822,"y":-2,"v":-32},{"x":828,"y":-2,"v":-27},{"x":834,"y":-2,"v":-22},{"x":841,"y":-2,"v":-17},{"x":847,"y":-2,"v":-12},{"x":853,"y":-2,"v":-7},{"x":859,"y":-2,"v":-3},{"x":866,"y":-2,"v":-1},{"x":872,"y":-2,"v":-1},{"x":878,"y":-2,"v":-6},{"x":884,"y":-2,"v":-12},{"x":891,"y":-2,"v":-18},{"x":897,"y":-2,"v":-23},
{"x":803,"y":-3,"v":-44},{"x":809,"y":-3,"v":-41},{"x":816,"y":-3,"v":-38},{"x":822,"y":-3,"v":-34},{"x":828,"y":-3,"v":-30},{"x":834,"y":-3,"v":-25},{"x":841,"y":-3,"v":-20},{"x":847,"y":-3,"v":-15},{"x":853,"y":-3,"v":-11},{"x":859,"y":-3,"v":-6},{"x":866,"y":-3,"v":-2},{"x":872,"y":-3,"v":-1},{"x":878,"y":-3,"v":-1},{"x":884,"y":-3,"v":-5},{"x":891,"y":-3,"v":-11},{"x":897,"y":-3,"v":-17}
]},"mark":"rect","encoding":{"x":{"field":"x","type":"quantitative","bin":{"extent":[800,900],"step":6.25,"nice":false},"scale":{"domain":[800,900]}},"y":{"field":"y","type":"quantitative","bin":{"extent":[-3.5,3.5],"step":1,"nice":false},"scale":{"domain":[-3.5,3.5]}},"fill":{"field":"v","type":"quantitative","scale":{"domain":[-50,-35,-20,-10,0],"range":["#000000","#00005a","#0000b0","#0000e0","#0000ff"],"interpolate":"rgb"},"legend":null},"stroke":{"field":"v","type":"quantitative","scale":{"domain":[-50,-35,-20,-10,0],"range":["#000000","#00005a","#0000b0","#0000e0","#0000ff"],"interpolate":"rgb"},"legend":null}}},
{"data":{"values":[{"s":1,"x":824.7,"y":3.48},{"s":1,"x":827.4,"y":2.74},{"s":1,"x":830.6,"y":2.03},{"s":1,"x":833.8,"y":1.36},{"s":1,"x":836.7,"y":0.82},{"s":1,"x":839.9,"y":0.24},{"s":2,"x":841.1,"y":-0.03},{"s":2,"x":844.6,"y":-0.7},{"s":2,"x":849.1,"y":-1.46},{"s":2,"x":853.6,"y":-2.17},{"s":2,"x":857.7,"y":-2.79},{"s":2,"x":861.9,"y":-3.49},{"s":3,"x":837.4,"y":3.48},{"s":3,"x":842.1,"y":2.74},{"s":3,"x":848.5,"y":1.76},{"s":3,"x":854.2,"y":0.82},{"s":3,"x":859.3,"y":0.02},{"s":3,"x":865.7,"y":-1.05},{"s":3,"x":872.1,"y":-2.12},{"s":4,"x":874.8,"y":-2.55},{"s":4,"x":877.8,"y":-3.06},{"s":4,"x":880.5,"y":-3.49}]},"mark":{"type":"line","color":"#ff40a8","strokeWidth":4},"encoding":{"detail":{"field":"s"},"order":{"value":null}}},
{"data":{"values":[{"s":1,"x":844.5,"y":0.35},{"s":1,"x":842.1,"y":0.82},{"s":1,"x":840.2,"y":1.22},{"s":1,"x":838.3,"y":1.54},{"s":1,"x":836.4,"y":1.98},{"s":1,"x":835.1,"y":2.5},{"s":1,"x":836,"y":2.56},{"s":1,"x":837.6,"y":2.5},{"s":1,"x":839.5,"y":2.21},{"s":1,"x":842.1,"y":1.89},{"s":1,"x":845.9,"y":1.27},{"s":1,"x":849.1,"y":0.73},{"s":1,"x":851.7,"y":0.35},{"s":1,"x":854.2,"y":-0.03},{"s":1,"x":856.8,"y":-0.52},{"s":1,"x":859.3,"y":-1.01},{"s":1,"x":861.9,"y":-1.54},{"s":1,"x":863.9,"y":-1.99},{"s":1,"x":862.8,"y":-2.17},{"s":1,"x":860.3,"y":-2.01},{"s":1,"x":856.1,"y":-1.5},{"s":1,"x":852.6,"y":-1.01},{"s":1,"x":849.4,"y":-0.52},{"s":1,"x":847,"y":-0.09}]},"mark":{"type":"line","color":"#00ff00","strokeWidth":4.5},"encoding":{"detail":{"field":"s"},"order":{"value":null}}},
{"data":{"values":[{"x":846,"y":0.15,"t":"−1 dB"},{"x":872.7,"y":-2.3,"t":"−3 dB"}]},"mark":{"type":"text","font":"Liberation Serif","fontWeight":"bold","fontSize":35,"color":"white"},"encoding":{"text":{"field":"t"}}},
{"data":{"values":[{"x":806.7,"y":3.01,"t":"(i)"}]},"mark":{"type":"text","font":"Liberation Serif","fontSize":60,"color":"white"},"encoding":{"text":{"field":"t"}}}
]},
{"width":221,"height":710,"view":{"stroke":null},"encoding":{"x":{"field":"a","type":"quantitative","axis":null,"scale":{"domain":[-1.311,2.311]}},"y":{"field":"y","type":"quantitative","axis":null,"scale":{"domain":[-55.82,6.43]}}},"layer":[
{"data":{"name":"bar"},"mark":"rect","encoding":{"x2":{"field":"b"},"y":{"field":"v","type":"quantitative","bin":{"extent":[-50,0],"step":2,"nice":false},"axis":null,"scale":{"domain":[-55.82,6.43]}},"fill":{"field":"v","type":"quantitative","scale":{"domain":[-50,0],"range":["#000000","#0000ff"],"interpolate":"rgb"},"legend":null},"stroke":{"field":"v","type":"quantitative","scale":{"domain":[-50,0],"range":["#000000","#0000ff"],"interpolate":"rgb"},"legend":null}}},
{"data":{"name":"frame"},"mark":{"type":"rect","fillOpacity":0,"stroke":"black","strokeWidth":2},"encoding":{"x2":{"field":"b"},"y":{"field":"lo","type":"quantitative","axis":null,"scale":{"domain":[-55.82,6.43]}},"y2":{"field":"hi"}}},
{"data":{"name":"ticks"},"mark":{"type":"rule","color":"black","strokeWidth":3},"encoding":{"y":{"field":"lo","type":"quantitative","axis":null,"scale":{"domain":[-55.82,6.43]}},"y2":{"field":"hi"}}},
{"data":{"name":"top"},"mark":{"type":"text","font":"Liberation Serif","fontWeight":"bold","fontSize":47,"color":"black"},"encoding":{"text":{"field":"t"}}},
{"data":{"name":"low"},"mark":{"type":"text","align":"right","font":"Liberation Serif","fontWeight":"bold","fontSize":47,"color":"black"},"encoding":{"text":{"field":"t"}}},
{"data":{"name":"name"},"mark":{"type":"text","angle":270,"font":"Liberation Serif","fontWeight":"bold","fontSize":47,"color":"black"},"encoding":{"text":{"field":"t"}}}
]}
]}
